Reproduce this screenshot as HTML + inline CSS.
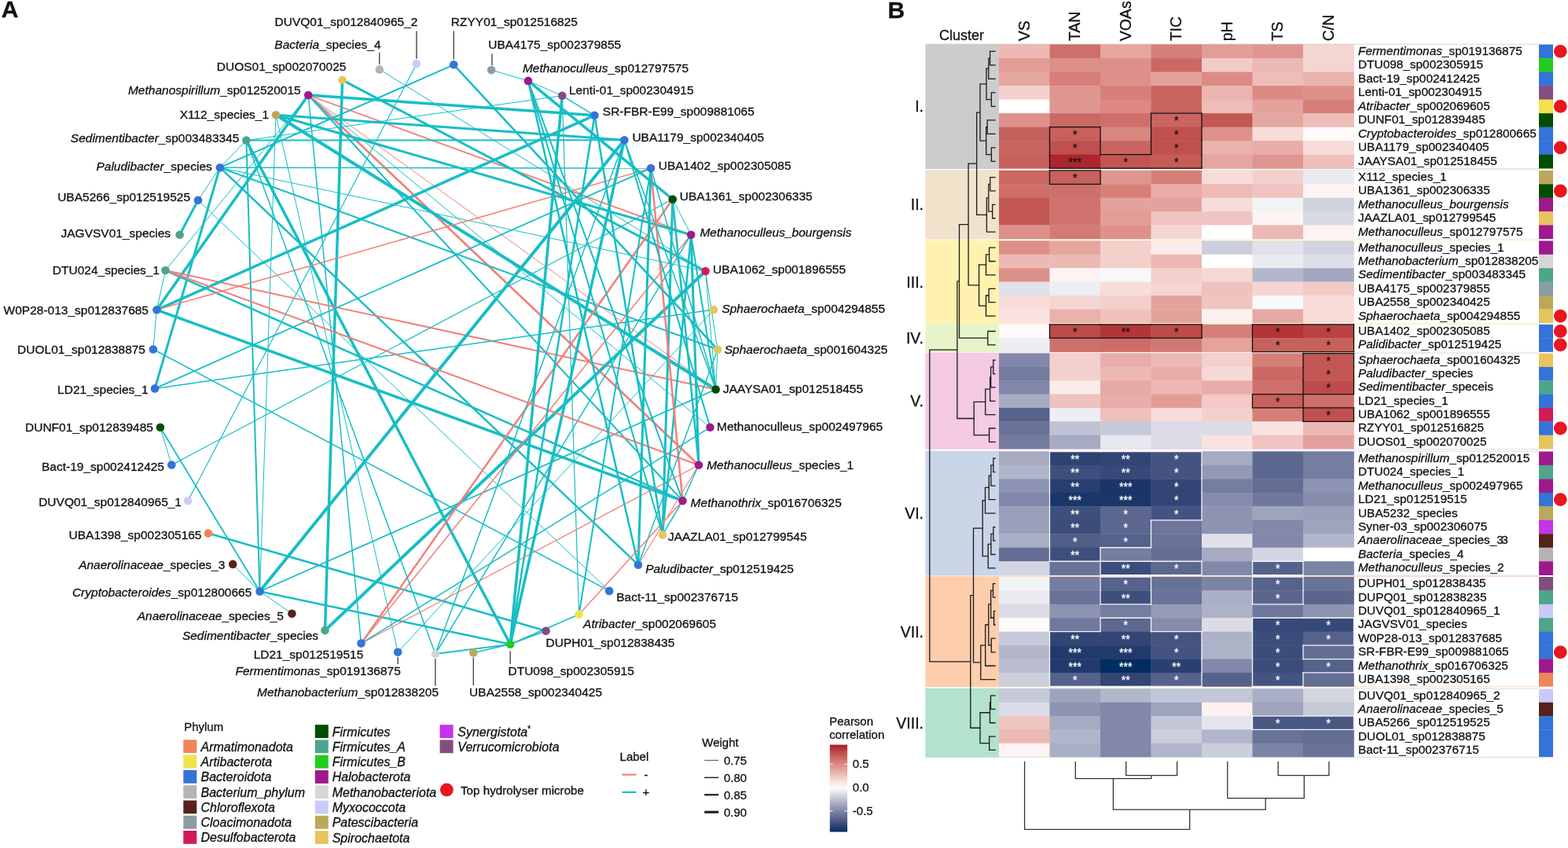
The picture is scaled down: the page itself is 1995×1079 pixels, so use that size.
<!DOCTYPE html>
<html><head><meta charset="utf-8"><title>Figure</title>
<style>
html,body{margin:0;padding:0;background:#fff;width:1995px;height:1079px;overflow:hidden}
svg{display:block;font-family:'Liberation Sans', Arial, sans-serif;fill:#111}
text{stroke:#111;stroke-width:0.3px}
text.w{fill:#fff;stroke:#fff}

</style></head><body>
<svg width="1995" height="1079" viewBox="0 0 1995 1079">
<text x="1.8" y="22.4" font-size="30" font-weight="bold">A</text>
<line x1="392.2" y1="121.0" x2="756.5" y2="146.8" stroke="#17BEC4" stroke-width="3.50"/>
<line x1="392.2" y1="121.0" x2="879.2" y2="298.8" stroke="#F2807A" stroke-width="1.80"/>
<line x1="392.2" y1="121.0" x2="889.0" y2="591.7" stroke="#F2807A" stroke-width="2.70"/>
<line x1="392.2" y1="121.0" x2="868.5" y2="637.2" stroke="#17BEC4" stroke-width="2.00"/>
<line x1="392.2" y1="121.0" x2="903.5" y2="543.8" stroke="#17BEC4" stroke-width="1.00"/>
<line x1="392.2" y1="121.0" x2="910.7" y2="495.5" stroke="#F2807A" stroke-width="1.00"/>
<line x1="392.2" y1="121.0" x2="459.5" y2="818.6" stroke="#17BEC4" stroke-width="1.50"/>
<line x1="392.2" y1="121.0" x2="199.4" y2="394.3" stroke="#17BEC4" stroke-width="3.50"/>
<line x1="435.6" y1="101.8" x2="413.5" y2="802.1" stroke="#17BEC4" stroke-width="3.50"/>
<line x1="435.6" y1="101.8" x2="897.6" y2="345.0" stroke="#17BEC4" stroke-width="3.00"/>
<line x1="482.8" y1="88.4" x2="897.6" y2="345.0" stroke="#17BEC4" stroke-width="1.00"/>
<line x1="530.0" y1="81.2" x2="239.1" y2="637.3" stroke="#17BEC4" stroke-width="1.20"/>
<line x1="577.3" y1="82.3" x2="279.8" y2="213.2" stroke="#17BEC4" stroke-width="2.00"/>
<line x1="351.0" y1="146.2" x2="794.4" y2="178.3" stroke="#17BEC4" stroke-width="3.00"/>
<line x1="351.0" y1="146.2" x2="879.2" y2="298.8" stroke="#17BEC4" stroke-width="3.00"/>
<line x1="351.0" y1="146.2" x2="910.7" y2="495.5" stroke="#17BEC4" stroke-width="4.00"/>
<line x1="351.0" y1="146.2" x2="330.5" y2="752.5" stroke="#17BEC4" stroke-width="1.00"/>
<line x1="351.0" y1="146.2" x2="506.2" y2="829.8" stroke="#17BEC4" stroke-width="1.00"/>
<line x1="313.4" y1="178.6" x2="794.4" y2="178.3" stroke="#17BEC4" stroke-width="2.00"/>
<line x1="313.4" y1="178.6" x2="715.3" y2="121.8" stroke="#17BEC4" stroke-width="1.00"/>
<line x1="313.4" y1="178.6" x2="649.2" y2="819.8" stroke="#17BEC4" stroke-width="3.50"/>
<line x1="313.4" y1="178.6" x2="330.5" y2="752.5" stroke="#17BEC4" stroke-width="2.00"/>
<line x1="313.4" y1="178.6" x2="279.8" y2="213.2" stroke="#17BEC4" stroke-width="1.00"/>
<line x1="279.8" y1="213.2" x2="828.1" y2="214.1" stroke="#17BEC4" stroke-width="1.50"/>
<line x1="279.8" y1="213.2" x2="897.6" y2="345.0" stroke="#17BEC4" stroke-width="1.00"/>
<line x1="279.8" y1="213.2" x2="913.0" y2="444.7" stroke="#17BEC4" stroke-width="2.00"/>
<line x1="279.8" y1="213.2" x2="812.0" y2="718.7" stroke="#17BEC4" stroke-width="2.50"/>
<line x1="279.8" y1="213.2" x2="197.0" y2="494.4" stroke="#17BEC4" stroke-width="3.00"/>
<line x1="279.8" y1="213.2" x2="252.0" y2="254.7" stroke="#17BEC4" stroke-width="1.00"/>
<line x1="252.0" y1="254.7" x2="775.2" y2="751.9" stroke="#17BEC4" stroke-width="1.00"/>
<line x1="252.0" y1="254.7" x2="228.6" y2="298.8" stroke="#17BEC4" stroke-width="3.00"/>
<line x1="210.5" y1="344.0" x2="392.2" y2="121.0" stroke="#17BEC4" stroke-width="1.00"/>
<line x1="210.5" y1="344.0" x2="910.7" y2="495.5" stroke="#F2807A" stroke-width="2.00"/>
<line x1="210.5" y1="344.0" x2="868.5" y2="637.2" stroke="#17BEC4" stroke-width="2.50"/>
<line x1="210.5" y1="344.0" x2="199.4" y2="394.3" stroke="#17BEC4" stroke-width="1.00"/>
<line x1="199.4" y1="394.3" x2="756.5" y2="146.8" stroke="#17BEC4" stroke-width="3.50"/>
<line x1="199.4" y1="394.3" x2="828.1" y2="214.1" stroke="#F2807A" stroke-width="1.50"/>
<line x1="199.4" y1="394.3" x2="868.5" y2="637.2" stroke="#17BEC4" stroke-width="3.50"/>
<line x1="194.9" y1="444.5" x2="775.2" y2="751.9" stroke="#17BEC4" stroke-width="1.50"/>
<line x1="194.9" y1="444.5" x2="199.4" y2="394.3" stroke="#17BEC4" stroke-width="1.00"/>
<line x1="197.0" y1="494.4" x2="828.1" y2="214.1" stroke="#17BEC4" stroke-width="1.80"/>
<line x1="197.0" y1="494.4" x2="908.0" y2="394.1" stroke="#17BEC4" stroke-width="1.50"/>
<line x1="203.9" y1="543.8" x2="330.5" y2="752.5" stroke="#17BEC4" stroke-width="1.80"/>
<line x1="203.9" y1="543.8" x2="218.3" y2="591.6" stroke="#17BEC4" stroke-width="1.00"/>
<line x1="218.3" y1="591.6" x2="855.8" y2="253.5" stroke="#17BEC4" stroke-width="1.20"/>
<line x1="265.0" y1="678.5" x2="694.6" y2="802.7" stroke="#17BEC4" stroke-width="2.50"/>
<line x1="330.5" y1="752.5" x2="794.4" y2="178.3" stroke="#17BEC4" stroke-width="4.00"/>
<line x1="330.5" y1="752.5" x2="910.7" y2="495.5" stroke="#17BEC4" stroke-width="1.80"/>
<line x1="330.5" y1="752.5" x2="296.2" y2="717.9" stroke="#17BEC4" stroke-width="1.00"/>
<line x1="330.5" y1="752.5" x2="371.4" y2="780.8" stroke="#17BEC4" stroke-width="1.00"/>
<line x1="330.5" y1="752.5" x2="649.2" y2="819.8" stroke="#17BEC4" stroke-width="2.50"/>
<line x1="413.5" y1="802.1" x2="897.6" y2="345.0" stroke="#17BEC4" stroke-width="4.00"/>
<line x1="459.5" y1="818.6" x2="855.8" y2="253.5" stroke="#F2807A" stroke-width="2.50"/>
<line x1="459.5" y1="818.6" x2="879.2" y2="298.8" stroke="#F2807A" stroke-width="1.50"/>
<line x1="459.5" y1="818.6" x2="889.0" y2="591.7" stroke="#F2807A" stroke-width="1.20"/>
<line x1="459.5" y1="818.6" x2="903.5" y2="543.8" stroke="#17BEC4" stroke-width="1.50"/>
<line x1="506.2" y1="829.8" x2="908.0" y2="394.1" stroke="#17BEC4" stroke-width="1.00"/>
<line x1="553.9" y1="832.0" x2="313.4" y2="178.6" stroke="#17BEC4" stroke-width="1.50"/>
<line x1="553.9" y1="832.0" x2="794.4" y2="178.3" stroke="#17BEC4" stroke-width="1.50"/>
<line x1="553.9" y1="832.0" x2="879.2" y2="298.8" stroke="#17BEC4" stroke-width="1.50"/>
<line x1="553.9" y1="832.0" x2="649.2" y2="819.8" stroke="#17BEC4" stroke-width="1.80"/>
<line x1="602.3" y1="830.4" x2="649.2" y2="819.8" stroke="#17BEC4" stroke-width="1.50"/>
<line x1="649.2" y1="819.8" x2="715.3" y2="121.8" stroke="#17BEC4" stroke-width="3.50"/>
<line x1="649.2" y1="819.8" x2="794.4" y2="178.3" stroke="#17BEC4" stroke-width="3.50"/>
<line x1="649.2" y1="819.8" x2="694.6" y2="802.7" stroke="#17BEC4" stroke-width="1.50"/>
<line x1="649.2" y1="819.8" x2="736.7" y2="781.7" stroke="#17BEC4" stroke-width="1.50"/>
<line x1="736.7" y1="781.7" x2="715.3" y2="121.8" stroke="#17BEC4" stroke-width="1.20"/>
<line x1="736.7" y1="781.7" x2="828.1" y2="214.1" stroke="#17BEC4" stroke-width="2.00"/>
<line x1="210.5" y1="344.0" x2="889.0" y2="591.7" stroke="#F2807A" stroke-width="2.00"/>
<line x1="855.8" y1="253.5" x2="843.0" y2="680.5" stroke="#17BEC4" stroke-width="3.00"/>
<line x1="879.2" y1="298.8" x2="889.0" y2="591.7" stroke="#17BEC4" stroke-width="3.00"/>
<line x1="879.2" y1="298.8" x2="910.7" y2="495.5" stroke="#17BEC4" stroke-width="2.00"/>
<line x1="879.2" y1="298.8" x2="843.0" y2="680.5" stroke="#17BEC4" stroke-width="2.50"/>
<line x1="828.1" y1="214.1" x2="868.5" y2="637.2" stroke="#F2807A" stroke-width="2.50"/>
<line x1="828.1" y1="214.1" x2="812.0" y2="718.7" stroke="#17BEC4" stroke-width="3.00"/>
<line x1="812.0" y1="718.7" x2="913.0" y2="444.7" stroke="#17BEC4" stroke-width="1.50"/>
<line x1="812.0" y1="718.7" x2="889.0" y2="591.7" stroke="#F2807A" stroke-width="1.20"/>
<line x1="736.7" y1="781.7" x2="868.5" y2="637.2" stroke="#F2807A" stroke-width="1.50"/>
<line x1="672.0" y1="102.9" x2="843.0" y2="680.5" stroke="#17BEC4" stroke-width="2.00"/>
<line x1="672.0" y1="102.9" x2="812.0" y2="718.7" stroke="#17BEC4" stroke-width="2.50"/>
<line x1="672.0" y1="102.9" x2="855.8" y2="253.5" stroke="#17BEC4" stroke-width="3.50"/>
<line x1="672.0" y1="102.9" x2="715.3" y2="121.8" stroke="#17BEC4" stroke-width="1.00"/>
<line x1="672.0" y1="102.9" x2="868.5" y2="637.2" stroke="#17BEC4" stroke-width="2.00"/>
<line x1="625.2" y1="89.1" x2="672.0" y2="102.9" stroke="#17BEC4" stroke-width="1.00"/>
<line x1="843.0" y1="680.5" x2="868.5" y2="637.2" stroke="#17BEC4" stroke-width="1.50"/>
<line x1="889.0" y1="591.7" x2="868.5" y2="637.2" stroke="#17BEC4" stroke-width="1.50"/>
<line x1="715.3" y1="121.8" x2="756.5" y2="146.8" stroke="#17BEC4" stroke-width="1.50"/>
<line x1="756.5" y1="146.8" x2="843.0" y2="680.5" stroke="#17BEC4" stroke-width="2.50"/>
<line x1="794.4" y1="178.3" x2="903.5" y2="543.8" stroke="#17BEC4" stroke-width="2.00"/>
<line x1="577.3" y1="82.3" x2="913.0" y2="444.7" stroke="#17BEC4" stroke-width="2.50"/>
<line x1="897.6" y1="345.0" x2="913.0" y2="444.7" stroke="#17BEC4" stroke-width="1.00"/>
<line x1="855.8" y1="253.5" x2="889.0" y2="591.7" stroke="#17BEC4" stroke-width="2.50"/>
<line x1="855.8" y1="253.5" x2="879.2" y2="298.8" stroke="#17BEC4" stroke-width="1.00"/>
<line x1="897.6" y1="345.0" x2="910.7" y2="495.5" stroke="#17BEC4" stroke-width="1.00"/>
<line x1="794.4" y1="178.3" x2="910.7" y2="495.5" stroke="#17BEC4" stroke-width="1.50"/>
<line x1="910.7" y1="495.5" x2="913.0" y2="444.7" stroke="#17BEC4" stroke-width="1.00"/>
<line x1="828.1" y1="214.1" x2="910.7" y2="495.5" stroke="#17BEC4" stroke-width="1.50"/>
<line x1="649.2" y1="819.8" x2="756.5" y2="146.8" stroke="#17BEC4" stroke-width="2.50"/>
<line x1="530.0" y1="39.5" x2="530.0" y2="75.0" stroke="#3a3a3a" stroke-width="1.3"/>
<circle cx="530.0" cy="81.2" r="5.3" fill="#CACAFA"/>
<text x="531.4" y="32.6" font-size="15.5" text-anchor="end">DUVQ01_sp012840965_2</text>
<line x1="482.8" y1="66.7" x2="482.8" y2="82.0" stroke="#3a3a3a" stroke-width="1.3"/>
<circle cx="482.8" cy="88.4" r="5.3" fill="#B8B3B3"/>
<text x="484.6" y="61.5" font-size="15.5" text-anchor="end"><tspan font-style="italic">Bacteria</tspan>_species_4</text>
<line x1="577.3" y1="39.5" x2="577.3" y2="75.5" stroke="#3a3a3a" stroke-width="1.3"/>
<circle cx="577.3" cy="82.3" r="5.3" fill="#3473D9"/>
<text x="573.8" y="32.6" font-size="15.5" text-anchor="start">RZYY01_sp012516825</text>
<line x1="626.0" y1="68.4" x2="626.0" y2="83.0" stroke="#3a3a3a" stroke-width="1.3"/>
<circle cx="625.2" cy="89.1" r="5.3" fill="#8A9CA6"/>
<text x="621.3" y="62.4" font-size="15.5" text-anchor="start">UBA4175_sp002379855</text>
<circle cx="435.6" cy="101.8" r="5.3" fill="#E8C45E"/>
<text x="440.4" y="90.1" font-size="15.5" text-anchor="end">DUOS01_sp002070025</text>
<circle cx="672.0" cy="102.9" r="5.3" fill="#9E1A8C"/>
<text x="664.9" y="91.7" font-size="15.5" text-anchor="start"><tspan font-style="italic">Methanoculleus</tspan>_sp012797575</text>
<circle cx="392.2" cy="121.0" r="5.3" fill="#9E1A8C"/>
<text x="382.7" y="120.4" font-size="15.5" text-anchor="end"><tspan font-style="italic">Methanospirillum</tspan>_sp012520015</text>
<circle cx="715.3" cy="121.8" r="5.3" fill="#834D80"/>
<text x="724.0" y="120.4" font-size="15.5" text-anchor="start">Lenti-01_sp002304915</text>
<circle cx="351.0" cy="146.2" r="5.3" fill="#BBA85A"/>
<text x="342.1" y="151.3" font-size="15.5" text-anchor="end">X112_species_1</text>
<circle cx="756.5" cy="146.8" r="5.3" fill="#3473D9"/>
<text x="766.8" y="147.4" font-size="15.5" text-anchor="start">SR-FBR-E99_sp009881065</text>
<circle cx="313.4" cy="178.6" r="5.3" fill="#4DA58A"/>
<text x="304.4" y="180.6" font-size="15.5" text-anchor="end"><tspan font-style="italic">Sedimentibacter</tspan>_sp003483345</text>
<circle cx="794.4" cy="178.3" r="5.3" fill="#3473D9"/>
<text x="804.4" y="179.6" font-size="15.5" text-anchor="start">UBA1179_sp002340405</text>
<circle cx="279.8" cy="213.2" r="5.3" fill="#3473D9"/>
<text x="269.8" y="216.5" font-size="15.5" text-anchor="end"><tspan font-style="italic">Paludibacter</tspan>_species</text>
<circle cx="828.1" cy="214.1" r="5.3" fill="#3473D9"/>
<text x="837.7" y="216.0" font-size="15.5" text-anchor="start">UBA1402_sp002305085</text>
<circle cx="252.0" cy="254.7" r="5.3" fill="#3473D9"/>
<text x="242.1" y="255.7" font-size="15.5" text-anchor="end">UBA5266_sp012519525</text>
<circle cx="855.8" cy="253.5" r="5.3" fill="#024D02"/>
<text x="864.8" y="254.5" font-size="15.5" text-anchor="start">UBA1361_sp002306335</text>
<circle cx="228.6" cy="298.8" r="5.3" fill="#4DA58A"/>
<text x="217.1" y="302.3" font-size="15.5" text-anchor="end">JAGVSV01_species</text>
<circle cx="879.2" cy="298.8" r="5.3" fill="#9E1A8C"/>
<text x="890.4" y="301.2" font-size="15.5" text-anchor="start"><tspan font-style="italic">Methanoculleus_bourgensis</tspan></text>
<circle cx="210.5" cy="344.0" r="5.3" fill="#4DA58A"/>
<text x="203.0" y="349.2" font-size="15.5" text-anchor="end">DTU024_species_1</text>
<circle cx="897.6" cy="345.0" r="5.3" fill="#D01C5A"/>
<text x="907.1" y="348.1" font-size="15.5" text-anchor="start">UBA1062_sp001896555</text>
<circle cx="199.4" cy="394.3" r="5.3" fill="#3473D9"/>
<text x="189.0" y="399.7" font-size="15.5" text-anchor="end">W0P28-013_sp012837685</text>
<circle cx="908.0" cy="394.1" r="5.3" fill="#E8C45E"/>
<text x="918.4" y="398.4" font-size="15.5" text-anchor="start"><tspan font-style="italic">Sphaerochaeta</tspan>_sp004294855</text>
<circle cx="194.9" cy="444.5" r="5.3" fill="#3473D9"/>
<text x="185.0" y="449.9" font-size="15.5" text-anchor="end">DUOL01_sp012838875</text>
<circle cx="913.0" cy="444.7" r="5.3" fill="#E8C45E"/>
<text x="921.7" y="449.6" font-size="15.5" text-anchor="start"><tspan font-style="italic">Sphaerochaeta</tspan>_sp001604325</text>
<circle cx="197.0" cy="494.4" r="5.3" fill="#3473D9"/>
<text x="188.6" y="500.5" font-size="15.5" text-anchor="end">LD21_species_1</text>
<circle cx="910.7" cy="495.5" r="5.3" fill="#024D02"/>
<text x="919.9" y="500.0" font-size="15.5" text-anchor="start">JAAYSA01_sp012518455</text>
<circle cx="203.9" cy="543.8" r="5.3" fill="#024D02"/>
<text x="194.9" y="549.2" font-size="15.5" text-anchor="end">DUNF01_sp012839485</text>
<circle cx="903.5" cy="543.8" r="5.3" fill="#9E1A8C"/>
<text x="912.0" y="548.1" font-size="15.5" text-anchor="start">Methanoculleus_sp002497965</text>
<circle cx="218.3" cy="591.6" r="5.3" fill="#3473D9"/>
<text x="209.0" y="599.1" font-size="15.5" text-anchor="end">Bact-19_sp002412425</text>
<circle cx="889.0" cy="591.7" r="5.3" fill="#9E1A8C"/>
<text x="899.2" y="597.3" font-size="15.5" text-anchor="start"><tspan font-style="italic">Methanoculleus</tspan>_species_1</text>
<circle cx="239.1" cy="637.3" r="5.3" fill="#CACAFA"/>
<text x="231.0" y="643.6" font-size="15.5" text-anchor="end">DUVQ01_sp012840965_1</text>
<circle cx="868.5" cy="637.2" r="5.3" fill="#9E1A8C"/>
<text x="878.6" y="644.9" font-size="15.5" text-anchor="start"><tspan font-style="italic">Methanothrix</tspan>_sp016706325</text>
<circle cx="265.0" cy="678.5" r="5.3" fill="#F0845A"/>
<text x="256.5" y="685.7" font-size="15.5" text-anchor="end">UBA1398_sp002305165</text>
<circle cx="843.0" cy="680.5" r="5.3" fill="#E8C45E"/>
<text x="849.9" y="688.2" font-size="15.5" text-anchor="start">JAAZLA01_sp012799545</text>
<circle cx="296.2" cy="717.9" r="5.3" fill="#55231A"/>
<text x="286.3" y="723.9" font-size="15.5" text-anchor="end"><tspan font-style="italic">Anaerolinaceae</tspan>_species_3</text>
<circle cx="812.0" cy="718.7" r="5.3" fill="#3473D9"/>
<text x="821.2" y="728.7" font-size="15.5" text-anchor="start"><tspan font-style="italic">Paludibacter</tspan>_sp012519425</text>
<circle cx="330.5" cy="752.5" r="5.3" fill="#3473D9"/>
<text x="320.3" y="758.5" font-size="15.5" text-anchor="end"><tspan font-style="italic">Cryptobacteroides</tspan>_sp012800665</text>
<circle cx="775.2" cy="751.9" r="5.3" fill="#3473D9"/>
<text x="784.2" y="765.4" font-size="15.5" text-anchor="start">Bact-11_sp002376715</text>
<circle cx="371.4" cy="780.8" r="5.3" fill="#55231A"/>
<text x="360.9" y="788.6" font-size="15.5" text-anchor="end"><tspan font-style="italic">Anaerolinaceae</tspan>_species_5</text>
<circle cx="736.7" cy="781.7" r="5.3" fill="#F3E24A"/>
<text x="742.1" y="799.1" font-size="15.5" text-anchor="start"><tspan font-style="italic">Atribacter</tspan>_sp002069605</text>
<circle cx="413.5" cy="802.1" r="5.3" fill="#4DA58A"/>
<text x="405.1" y="814.1" font-size="15.5" text-anchor="end"><tspan font-style="italic">Sedimentibacter</tspan>_species</text>
<circle cx="694.6" cy="802.7" r="5.3" fill="#834D80"/>
<text x="694.6" y="823.2" font-size="15.5" text-anchor="start">DUPH01_sp012838435</text>
<circle cx="459.5" cy="818.6" r="5.3" fill="#3473D9"/>
<text x="462.3" y="837.6" font-size="15.5" text-anchor="end">LD21_sp012519515</text>
<line x1="649.2" y1="828.6" x2="649.2" y2="845.1" stroke="#3a3a3a" stroke-width="1.3"/>
<circle cx="649.2" cy="819.8" r="5.3" fill="#22CC22"/>
<text x="646.5" y="859.2" font-size="15.5" text-anchor="start">DTU098_sp002305915</text>
<line x1="506.2" y1="836.0" x2="506.2" y2="845.0" stroke="#3a3a3a" stroke-width="1.3"/>
<circle cx="506.2" cy="829.8" r="5.3" fill="#3473D9"/>
<text x="509.8" y="858.6" font-size="15.5" text-anchor="end"><tspan font-style="italic">Fermentimonas</tspan>_sp019136875</text>
<line x1="602.3" y1="836.5" x2="602.3" y2="872.2" stroke="#3a3a3a" stroke-width="1.3"/>
<circle cx="602.3" cy="830.4" r="5.3" fill="#BBA85A"/>
<text x="597.1" y="886.3" font-size="15.5" text-anchor="start">UBA2558_sp002340425</text>
<line x1="553.9" y1="838.0" x2="553.9" y2="872.5" stroke="#3a3a3a" stroke-width="1.3"/>
<circle cx="553.9" cy="832.0" r="5.3" fill="#D6D6D6"/>
<text x="558.0" y="886.3" font-size="15.5" text-anchor="end"><tspan font-style="italic">Methanobacterium</tspan>_sp012838205</text>
<text x="234.2" y="929.5" font-size="15">Phylum</text>
<rect x="233.3" y="941.3" width="17" height="16.8" fill="#F0845A"/>
<text x="255.5" y="955.6" font-size="16" font-style="italic">Armatimonadota</text>
<rect x="233.3" y="960.6" width="17" height="16.8" fill="#F3E24A"/>
<text x="255.5" y="974.9" font-size="16" font-style="italic">Artibacterota</text>
<rect x="233.3" y="979.9" width="17" height="16.8" fill="#3473D9"/>
<text x="255.5" y="994.2" font-size="16" font-style="italic">Bacteroidota</text>
<rect x="233.3" y="999.2" width="17" height="16.8" fill="#B8B3B3"/>
<text x="255.5" y="1013.5" font-size="16" font-style="italic">Bacterium_phylum</text>
<rect x="233.3" y="1018.5" width="17" height="16.8" fill="#55231A"/>
<text x="255.5" y="1032.8" font-size="16" font-style="italic">Chloroflexota</text>
<rect x="233.3" y="1037.8" width="17" height="16.8" fill="#8A9CA6"/>
<text x="255.5" y="1052.0" font-size="16" font-style="italic">Cloacimonadota</text>
<rect x="233.3" y="1057.0" width="17" height="16.8" fill="#D01C5A"/>
<text x="255.5" y="1071.3" font-size="16" font-style="italic">Desulfobacterota</text>
<rect x="400.8" y="922.2" width="17" height="16.8" fill="#024D02"/>
<text x="422.7" y="936.5" font-size="16" font-style="italic">Firmicutes</text>
<rect x="400.8" y="941.5" width="17" height="16.8" fill="#4DA58A"/>
<text x="422.7" y="955.8" font-size="16" font-style="italic">Firmicutes_A</text>
<rect x="400.8" y="960.8" width="17" height="16.8" fill="#22CC22"/>
<text x="422.7" y="975.1" font-size="16" font-style="italic">Firmicutes_B</text>
<rect x="400.8" y="980.1" width="17" height="16.8" fill="#9E1A8C"/>
<text x="422.7" y="994.4" font-size="16" font-style="italic">Halobacterota</text>
<rect x="400.8" y="999.4" width="17" height="16.8" fill="#D6D6D6"/>
<text x="422.7" y="1013.7" font-size="16" font-style="italic">Methanobacteriota</text>
<rect x="400.8" y="1018.7" width="17" height="16.8" fill="#CACAFA"/>
<text x="422.7" y="1033.0" font-size="16" font-style="italic">Myxococcota</text>
<rect x="400.8" y="1037.9" width="17" height="16.8" fill="#BBA85A"/>
<text x="422.7" y="1052.2" font-size="16" font-style="italic">Patescibacteria</text>
<rect x="400.8" y="1057.2" width="17" height="16.8" fill="#E8C45E"/>
<text x="422.7" y="1071.5" font-size="16" font-style="italic">Spirochaetota</text>
<rect x="559.6" y="922.2" width="17" height="16.8" fill="#C633E8"/>
<text x="582.3" y="936.5" font-size="16"><tspan font-style="italic">Synergistota</tspan><tspan font-size="10" dy="-6">*</tspan></text>
<rect x="559.6" y="941.5" width="17" height="16.8" fill="#834D80"/>
<text x="582.3" y="955.8" font-size="16" font-style="italic">Verrucomicrobiota</text>
<circle cx="568.4" cy="1005" r="8.4" fill="#E8161F"/>
<text x="586" y="1010.6" font-size="15.2">Top hydrolyser microbe</text>
<text x="788.6" y="967.6" font-size="15">Label</text>
<line x1="791.4" y1="985.7" x2="809.5" y2="985.7" stroke="#F8766D" stroke-width="2"/>
<text x="819.4" y="991" font-size="15">-</text>
<line x1="791.4" y1="1008" x2="809.5" y2="1008" stroke="#00BFC4" stroke-width="2"/>
<text x="817.6" y="1013.2" font-size="15">+</text>
<text x="893.3" y="950" font-size="15">Weight</text>
<line x1="896.2" y1="967.4" x2="914.3" y2="967.4" stroke="#222" stroke-width="0.8"/>
<text x="921" y="973.3" font-size="15">0.75</text>
<line x1="896.2" y1="989.4" x2="914.3" y2="989.4" stroke="#222" stroke-width="1.5"/>
<text x="921" y="995.3" font-size="15">0.80</text>
<line x1="896.2" y1="1011.3" x2="914.3" y2="1011.3" stroke="#222" stroke-width="2.3"/>
<text x="921" y="1017.2" font-size="15">0.85</text>
<line x1="896.2" y1="1033.3" x2="914.3" y2="1033.3" stroke="#222" stroke-width="3.1"/>
<text x="921" y="1039.2" font-size="15">0.90</text>
<text x="1129.6" y="23.4" font-size="30" font-weight="bold">B</text>
<text x="1195" y="51.1" font-size="18">Cluster</text>
<text transform="translate(1309.5,52.3) rotate(-90)" font-size="19.5">VS</text>
<text transform="translate(1374.0,52.3) rotate(-90)" font-size="19.5">TAN</text>
<text transform="translate(1438.5,52.3) rotate(-90)" font-size="19.5">VOAs</text>
<text transform="translate(1503.0,52.3) rotate(-90)" font-size="19.5">TIC</text>
<text transform="translate(1567.5,52.3) rotate(-90)" font-size="19.5">pH</text>
<text transform="translate(1632.0,52.3) rotate(-90)" font-size="19.5">TS</text>
<text transform="translate(1696.5,52.3) rotate(-90)" font-size="19.5">C/N</text>
<rect x="1177.3" y="55.80" width="780.70" height="159.20" fill="#CCCCCC"/>
<rect x="1722.5" y="56.60" width="235.50" height="157.60" fill="#FFFFFF"/>
<text x="1175" y="142.4" font-size="19.5" text-anchor="end">I.</text>
<rect x="1177.3" y="216.10" width="780.70" height="88.50" fill="#F1E2CC"/>
<rect x="1722.5" y="216.90" width="235.50" height="86.90" fill="#FFFFFF"/>
<text x="1175" y="267.4" font-size="19.5" text-anchor="end">II.</text>
<rect x="1177.3" y="305.60" width="780.70" height="106.00" fill="#FFF2AE"/>
<rect x="1722.5" y="306.40" width="235.50" height="104.40" fill="#FFFFFF"/>
<text x="1175" y="365.6" font-size="19.5" text-anchor="end">III.</text>
<rect x="1177.3" y="412.00" width="780.70" height="36.40" fill="#E6F5C9"/>
<rect x="1722.5" y="412.80" width="235.50" height="34.80" fill="#FFFFFF"/>
<text x="1175" y="437.2" font-size="19.5" text-anchor="end">IV.</text>
<rect x="1177.3" y="448.80" width="780.70" height="123.00" fill="#F4CAE4"/>
<rect x="1722.5" y="449.60" width="235.50" height="121.40" fill="#FFFFFF"/>
<text x="1175" y="517.3" font-size="19.5" text-anchor="end">V.</text>
<rect x="1177.3" y="573.70" width="780.70" height="158.80" fill="#CBD5E8"/>
<rect x="1722.5" y="574.50" width="235.50" height="157.20" fill="#FFFFFF"/>
<text x="1175" y="660.1" font-size="19.5" text-anchor="end">VI.</text>
<rect x="1177.3" y="733.20" width="780.70" height="141.00" fill="#FDCDAC"/>
<rect x="1722.5" y="734.00" width="235.50" height="139.40" fill="#FFFFFF"/>
<text x="1175" y="810.7" font-size="19.5" text-anchor="end">VII.</text>
<rect x="1177.3" y="875.70" width="780.70" height="88.10" fill="#B3E2CD"/>
<rect x="1722.5" y="876.50" width="235.50" height="86.50" fill="#FFFFFF"/>
<text x="1175" y="926.8" font-size="19.5" text-anchor="end">VIII.</text>
<rect x="1271.00" y="56.60" width="64.80" height="17.81" fill="#ECB9B4"/>
<rect x="1335.50" y="56.60" width="64.80" height="17.81" fill="#CE6F69"/>
<rect x="1400.00" y="56.60" width="64.80" height="17.81" fill="#E6A6A0"/>
<rect x="1464.50" y="56.60" width="64.80" height="17.81" fill="#D67F79"/>
<rect x="1529.00" y="56.60" width="64.80" height="17.81" fill="#E29D97"/>
<rect x="1593.50" y="56.60" width="64.80" height="17.81" fill="#DF9690"/>
<rect x="1658.00" y="56.60" width="64.80" height="17.81" fill="#F5D5D1"/>
<rect x="1271.00" y="74.11" width="64.80" height="17.81" fill="#E29D97"/>
<rect x="1335.50" y="74.11" width="64.80" height="17.81" fill="#DD8F89"/>
<rect x="1400.00" y="74.11" width="64.80" height="17.81" fill="#DD8F89"/>
<rect x="1464.50" y="74.11" width="64.80" height="17.81" fill="#CB6863"/>
<rect x="1529.00" y="74.11" width="64.80" height="17.81" fill="#F2CBC7"/>
<rect x="1593.50" y="74.11" width="64.80" height="17.81" fill="#ECB9B4"/>
<rect x="1658.00" y="74.11" width="64.80" height="17.81" fill="#F5D5D1"/>
<rect x="1271.00" y="91.62" width="64.80" height="17.81" fill="#E6A6A0"/>
<rect x="1335.50" y="91.62" width="64.80" height="17.81" fill="#D67F79"/>
<rect x="1400.00" y="91.62" width="64.80" height="17.81" fill="#DD8F89"/>
<rect x="1464.50" y="91.62" width="64.80" height="17.81" fill="#E4A29C"/>
<rect x="1529.00" y="91.62" width="64.80" height="17.81" fill="#DB8B84"/>
<rect x="1593.50" y="91.62" width="64.80" height="17.81" fill="#EEBDB9"/>
<rect x="1658.00" y="91.62" width="64.80" height="17.81" fill="#EAB2AC"/>
<rect x="1271.00" y="109.13" width="64.80" height="17.81" fill="#F4D0CC"/>
<rect x="1335.50" y="109.13" width="64.80" height="17.81" fill="#DF9690"/>
<rect x="1400.00" y="109.13" width="64.80" height="17.81" fill="#D67F79"/>
<rect x="1464.50" y="109.13" width="64.80" height="17.81" fill="#CA6560"/>
<rect x="1529.00" y="109.13" width="64.80" height="17.81" fill="#EBB4AF"/>
<rect x="1593.50" y="109.13" width="64.80" height="17.81" fill="#DB8B84"/>
<rect x="1658.00" y="109.13" width="64.80" height="17.81" fill="#DE918B"/>
<rect x="1271.00" y="126.64" width="64.80" height="17.81" fill="#FFFFFF"/>
<rect x="1335.50" y="126.64" width="64.80" height="17.81" fill="#DF9690"/>
<rect x="1400.00" y="126.64" width="64.80" height="17.81" fill="#DB8B84"/>
<rect x="1464.50" y="126.64" width="64.80" height="17.81" fill="#CA6560"/>
<rect x="1529.00" y="126.64" width="64.80" height="17.81" fill="#EEBDB9"/>
<rect x="1593.50" y="126.64" width="64.80" height="17.81" fill="#E4A29C"/>
<rect x="1658.00" y="126.64" width="64.80" height="17.81" fill="#D67F79"/>
<rect x="1271.00" y="144.16" width="64.80" height="17.81" fill="#DE918B"/>
<rect x="1335.50" y="144.16" width="64.80" height="17.81" fill="#CB6863"/>
<rect x="1400.00" y="144.16" width="64.80" height="17.81" fill="#CE6F69"/>
<rect x="1464.50" y="144.16" width="64.80" height="17.81" fill="#CA6560"/>
<rect x="1529.00" y="144.16" width="64.80" height="17.81" fill="#C35754"/>
<rect x="1593.50" y="144.16" width="64.80" height="17.81" fill="#E6A6A0"/>
<rect x="1658.00" y="144.16" width="64.80" height="17.81" fill="#EEBDB9"/>
<rect x="1271.00" y="161.67" width="64.80" height="17.81" fill="#C7615C"/>
<rect x="1335.50" y="161.67" width="64.80" height="17.81" fill="#C7615C"/>
<rect x="1400.00" y="161.67" width="64.80" height="17.81" fill="#D98680"/>
<rect x="1464.50" y="161.67" width="64.80" height="17.81" fill="#BF504D"/>
<rect x="1529.00" y="161.67" width="64.80" height="17.81" fill="#DE918B"/>
<rect x="1593.50" y="161.67" width="64.80" height="17.81" fill="#F7DCD9"/>
<rect x="1658.00" y="161.67" width="64.80" height="17.81" fill="#FEFAFA"/>
<rect x="1271.00" y="179.18" width="64.80" height="17.81" fill="#CA6560"/>
<rect x="1335.50" y="179.18" width="64.80" height="17.81" fill="#BF504D"/>
<rect x="1400.00" y="179.18" width="64.80" height="17.81" fill="#CA6560"/>
<rect x="1464.50" y="179.18" width="64.80" height="17.81" fill="#BF504D"/>
<rect x="1529.00" y="179.18" width="64.80" height="17.81" fill="#EAB2AC"/>
<rect x="1593.50" y="179.18" width="64.80" height="17.81" fill="#E8ADA8"/>
<rect x="1658.00" y="179.18" width="64.80" height="17.81" fill="#F7DCD9"/>
<rect x="1271.00" y="196.69" width="64.80" height="17.81" fill="#C7615C"/>
<rect x="1335.50" y="196.69" width="64.80" height="17.81" fill="#AC252F"/>
<rect x="1400.00" y="196.69" width="64.80" height="17.81" fill="#C25551"/>
<rect x="1464.50" y="196.69" width="64.80" height="17.81" fill="#C55C58"/>
<rect x="1529.00" y="196.69" width="64.80" height="17.81" fill="#E6A6A0"/>
<rect x="1593.50" y="196.69" width="64.80" height="17.81" fill="#DF9690"/>
<rect x="1658.00" y="196.69" width="64.80" height="17.81" fill="#EFC0BB"/>
<rect x="1271.00" y="216.90" width="64.80" height="17.68" fill="#CB6863"/>
<rect x="1335.50" y="216.90" width="64.80" height="17.68" fill="#C7615C"/>
<rect x="1400.00" y="216.90" width="64.80" height="17.68" fill="#DF9690"/>
<rect x="1464.50" y="216.90" width="64.80" height="17.68" fill="#D67F79"/>
<rect x="1529.00" y="216.90" width="64.80" height="17.68" fill="#F7DCD9"/>
<rect x="1593.50" y="216.90" width="64.80" height="17.68" fill="#F4D0CC"/>
<rect x="1658.00" y="216.90" width="64.80" height="17.68" fill="#EAEBF1"/>
<rect x="1271.00" y="234.28" width="64.80" height="17.68" fill="#CE6F69"/>
<rect x="1335.50" y="234.28" width="64.80" height="17.68" fill="#CE6F69"/>
<rect x="1400.00" y="234.28" width="64.80" height="17.68" fill="#D67F79"/>
<rect x="1464.50" y="234.28" width="64.80" height="17.68" fill="#E8ADA8"/>
<rect x="1529.00" y="234.28" width="64.80" height="17.68" fill="#ECB9B4"/>
<rect x="1593.50" y="234.28" width="64.80" height="17.68" fill="#F0C4C0"/>
<rect x="1658.00" y="234.28" width="64.80" height="17.68" fill="#FDF3F2"/>
<rect x="1271.00" y="251.66" width="64.80" height="17.68" fill="#C35754"/>
<rect x="1335.50" y="251.66" width="64.80" height="17.68" fill="#D0736E"/>
<rect x="1400.00" y="251.66" width="64.80" height="17.68" fill="#E4A29C"/>
<rect x="1464.50" y="251.66" width="64.80" height="17.68" fill="#E4A29C"/>
<rect x="1529.00" y="251.66" width="64.80" height="17.68" fill="#F7DCD9"/>
<rect x="1593.50" y="251.66" width="64.80" height="17.68" fill="#F2F3F6"/>
<rect x="1658.00" y="251.66" width="64.80" height="17.68" fill="#D1D3DF"/>
<rect x="1271.00" y="269.04" width="64.80" height="17.68" fill="#C35754"/>
<rect x="1335.50" y="269.04" width="64.80" height="17.68" fill="#D0736E"/>
<rect x="1400.00" y="269.04" width="64.80" height="17.68" fill="#E29D97"/>
<rect x="1464.50" y="269.04" width="64.80" height="17.68" fill="#F0C4C0"/>
<rect x="1529.00" y="269.04" width="64.80" height="17.68" fill="#F0C4C0"/>
<rect x="1593.50" y="269.04" width="64.80" height="17.68" fill="#FDF3F2"/>
<rect x="1658.00" y="269.04" width="64.80" height="17.68" fill="#D8DAE5"/>
<rect x="1271.00" y="286.42" width="64.80" height="17.68" fill="#DD8F89"/>
<rect x="1335.50" y="286.42" width="64.80" height="17.68" fill="#D47A74"/>
<rect x="1400.00" y="286.42" width="64.80" height="17.68" fill="#DE918B"/>
<rect x="1464.50" y="286.42" width="64.80" height="17.68" fill="#F5D5D1"/>
<rect x="1529.00" y="286.42" width="64.80" height="17.68" fill="#FFFFFF"/>
<rect x="1593.50" y="286.42" width="64.80" height="17.68" fill="#ECB9B4"/>
<rect x="1658.00" y="286.42" width="64.80" height="17.68" fill="#FDF3F2"/>
<rect x="1271.00" y="306.40" width="64.80" height="17.70" fill="#DD8F89"/>
<rect x="1335.50" y="306.40" width="64.80" height="17.70" fill="#E6A6A0"/>
<rect x="1400.00" y="306.40" width="64.80" height="17.70" fill="#F4D0CC"/>
<rect x="1464.50" y="306.40" width="64.80" height="17.70" fill="#FBECEA"/>
<rect x="1529.00" y="306.40" width="64.80" height="17.70" fill="#CCCEDC"/>
<rect x="1593.50" y="306.40" width="64.80" height="17.70" fill="#E0E1EA"/>
<rect x="1658.00" y="306.40" width="64.80" height="17.70" fill="#D1D3DF"/>
<rect x="1271.00" y="323.80" width="64.80" height="17.70" fill="#ECB9B4"/>
<rect x="1335.50" y="323.80" width="64.80" height="17.70" fill="#ECB9B4"/>
<rect x="1400.00" y="323.80" width="64.80" height="17.70" fill="#F4D0CC"/>
<rect x="1464.50" y="323.80" width="64.80" height="17.70" fill="#ECB9B4"/>
<rect x="1529.00" y="323.80" width="64.80" height="17.70" fill="#FFFFFF"/>
<rect x="1593.50" y="323.80" width="64.80" height="17.70" fill="#EAEBF1"/>
<rect x="1658.00" y="323.80" width="64.80" height="17.70" fill="#DDDFE8"/>
<rect x="1271.00" y="341.20" width="64.80" height="17.70" fill="#DD8F89"/>
<rect x="1335.50" y="341.20" width="64.80" height="17.70" fill="#FDF3F2"/>
<rect x="1400.00" y="341.20" width="64.80" height="17.70" fill="#F7F8FA"/>
<rect x="1464.50" y="341.20" width="64.80" height="17.70" fill="#F4D0CC"/>
<rect x="1529.00" y="341.20" width="64.80" height="17.70" fill="#F6D7D4"/>
<rect x="1593.50" y="341.20" width="64.80" height="17.70" fill="#B2B6CB"/>
<rect x="1658.00" y="341.20" width="64.80" height="17.70" fill="#A3A8C0"/>
<rect x="1271.00" y="358.60" width="64.80" height="17.70" fill="#E0E1EA"/>
<rect x="1335.50" y="358.60" width="64.80" height="17.70" fill="#EDEEF3"/>
<rect x="1400.00" y="358.60" width="64.80" height="17.70" fill="#F7DCD9"/>
<rect x="1464.50" y="358.60" width="64.80" height="17.70" fill="#F5D5D1"/>
<rect x="1529.00" y="358.60" width="64.80" height="17.70" fill="#EFC2BD"/>
<rect x="1593.50" y="358.60" width="64.80" height="17.70" fill="#F5D5D1"/>
<rect x="1658.00" y="358.60" width="64.80" height="17.70" fill="#F2CBC7"/>
<rect x="1271.00" y="376.00" width="64.80" height="17.70" fill="#F7DCD9"/>
<rect x="1335.50" y="376.00" width="64.80" height="17.70" fill="#F5D5D1"/>
<rect x="1400.00" y="376.00" width="64.80" height="17.70" fill="#F4D0CC"/>
<rect x="1464.50" y="376.00" width="64.80" height="17.70" fill="#E4A29C"/>
<rect x="1529.00" y="376.00" width="64.80" height="17.70" fill="#F0C4C0"/>
<rect x="1593.50" y="376.00" width="64.80" height="17.70" fill="#F7F8FA"/>
<rect x="1658.00" y="376.00" width="64.80" height="17.70" fill="#F7DCD9"/>
<rect x="1271.00" y="393.40" width="64.80" height="17.70" fill="#F9E3E0"/>
<rect x="1335.50" y="393.40" width="64.80" height="17.70" fill="#EAB2AC"/>
<rect x="1400.00" y="393.40" width="64.80" height="17.70" fill="#EFC2BD"/>
<rect x="1464.50" y="393.40" width="64.80" height="17.70" fill="#E4A29C"/>
<rect x="1529.00" y="393.40" width="64.80" height="17.70" fill="#FCF1F0"/>
<rect x="1593.50" y="393.40" width="64.80" height="17.70" fill="#E7A9A3"/>
<rect x="1658.00" y="393.40" width="64.80" height="17.70" fill="#F7DCD9"/>
<rect x="1271.00" y="412.80" width="64.80" height="17.70" fill="#FEFAFA"/>
<rect x="1335.50" y="412.80" width="64.80" height="17.70" fill="#BD4B49"/>
<rect x="1400.00" y="412.80" width="64.80" height="17.70" fill="#B33539"/>
<rect x="1464.50" y="412.80" width="64.80" height="17.70" fill="#BD4B49"/>
<rect x="1529.00" y="412.80" width="64.80" height="17.70" fill="#D67F79"/>
<rect x="1593.50" y="412.80" width="64.80" height="17.70" fill="#B33539"/>
<rect x="1658.00" y="412.80" width="64.80" height="17.70" fill="#B94343"/>
<rect x="1271.00" y="430.20" width="64.80" height="17.70" fill="#EDEEF3"/>
<rect x="1335.50" y="430.20" width="64.80" height="17.70" fill="#CE6F69"/>
<rect x="1400.00" y="430.20" width="64.80" height="17.70" fill="#CD6C67"/>
<rect x="1464.50" y="430.20" width="64.80" height="17.70" fill="#D27872"/>
<rect x="1529.00" y="430.20" width="64.80" height="17.70" fill="#E4A29C"/>
<rect x="1593.50" y="430.20" width="64.80" height="17.70" fill="#C7615C"/>
<rect x="1658.00" y="430.20" width="64.80" height="17.70" fill="#C7615C"/>
<rect x="1271.00" y="449.60" width="64.80" height="17.64" fill="#8188A9"/>
<rect x="1335.50" y="449.60" width="64.80" height="17.64" fill="#F4D0CC"/>
<rect x="1400.00" y="449.60" width="64.80" height="17.64" fill="#E8ADA8"/>
<rect x="1464.50" y="449.60" width="64.80" height="17.64" fill="#ECB9B4"/>
<rect x="1529.00" y="449.60" width="64.80" height="17.64" fill="#F4D0CC"/>
<rect x="1593.50" y="449.60" width="64.80" height="17.64" fill="#D67F79"/>
<rect x="1658.00" y="449.60" width="64.80" height="17.64" fill="#C35754"/>
<rect x="1271.00" y="466.94" width="64.80" height="17.64" fill="#737B9F"/>
<rect x="1335.50" y="466.94" width="64.80" height="17.64" fill="#F4D0CC"/>
<rect x="1400.00" y="466.94" width="64.80" height="17.64" fill="#ECB9B4"/>
<rect x="1464.50" y="466.94" width="64.80" height="17.64" fill="#E8ADA8"/>
<rect x="1529.00" y="466.94" width="64.80" height="17.64" fill="#F6D9D6"/>
<rect x="1593.50" y="466.94" width="64.80" height="17.64" fill="#CB6863"/>
<rect x="1658.00" y="466.94" width="64.80" height="17.64" fill="#C35754"/>
<rect x="1271.00" y="484.29" width="64.80" height="17.64" fill="#8188A9"/>
<rect x="1335.50" y="484.29" width="64.80" height="17.64" fill="#FBECEA"/>
<rect x="1400.00" y="484.29" width="64.80" height="17.64" fill="#E7A9A3"/>
<rect x="1464.50" y="484.29" width="64.80" height="17.64" fill="#ECB9B4"/>
<rect x="1529.00" y="484.29" width="64.80" height="17.64" fill="#E8ADA8"/>
<rect x="1593.50" y="484.29" width="64.80" height="17.64" fill="#CE6F69"/>
<rect x="1658.00" y="484.29" width="64.80" height="17.64" fill="#BD4B49"/>
<rect x="1271.00" y="501.63" width="64.80" height="17.64" fill="#A6ABC2"/>
<rect x="1335.50" y="501.63" width="64.80" height="17.64" fill="#EFC2BD"/>
<rect x="1400.00" y="501.63" width="64.80" height="17.64" fill="#E8ADA8"/>
<rect x="1464.50" y="501.63" width="64.80" height="17.64" fill="#E29D97"/>
<rect x="1529.00" y="501.63" width="64.80" height="17.64" fill="#F2C9C5"/>
<rect x="1593.50" y="501.63" width="64.80" height="17.64" fill="#C7615C"/>
<rect x="1658.00" y="501.63" width="64.80" height="17.64" fill="#CE6F69"/>
<rect x="1271.00" y="518.97" width="64.80" height="17.64" fill="#55628B"/>
<rect x="1335.50" y="518.97" width="64.80" height="17.64" fill="#EDEEF3"/>
<rect x="1400.00" y="518.97" width="64.80" height="17.64" fill="#EFC0BB"/>
<rect x="1464.50" y="518.97" width="64.80" height="17.64" fill="#F7DCD9"/>
<rect x="1529.00" y="518.97" width="64.80" height="17.64" fill="#F4D0CC"/>
<rect x="1593.50" y="518.97" width="64.80" height="17.64" fill="#D67F79"/>
<rect x="1658.00" y="518.97" width="64.80" height="17.64" fill="#BF504D"/>
<rect x="1271.00" y="536.31" width="64.80" height="17.64" fill="#697398"/>
<rect x="1335.50" y="536.31" width="64.80" height="17.64" fill="#BFC2D3"/>
<rect x="1400.00" y="536.31" width="64.80" height="17.64" fill="#C6C9D8"/>
<rect x="1464.50" y="536.31" width="64.80" height="17.64" fill="#DBDCE6"/>
<rect x="1529.00" y="536.31" width="64.80" height="17.64" fill="#DBDCE6"/>
<rect x="1593.50" y="536.31" width="64.80" height="17.64" fill="#F9E3E0"/>
<rect x="1658.00" y="536.31" width="64.80" height="17.64" fill="#ECB9B4"/>
<rect x="1271.00" y="553.66" width="64.80" height="17.64" fill="#737B9F"/>
<rect x="1335.50" y="553.66" width="64.80" height="17.64" fill="#A6ABC2"/>
<rect x="1400.00" y="553.66" width="64.80" height="17.64" fill="#E8E9EF"/>
<rect x="1464.50" y="553.66" width="64.80" height="17.64" fill="#DBDCE6"/>
<rect x="1529.00" y="553.66" width="64.80" height="17.64" fill="#F9E3E0"/>
<rect x="1593.50" y="553.66" width="64.80" height="17.64" fill="#F0C4C0"/>
<rect x="1658.00" y="553.66" width="64.80" height="17.64" fill="#E4A29C"/>
<rect x="1271.00" y="574.50" width="64.80" height="17.77" fill="#A6ABC2"/>
<rect x="1335.50" y="574.50" width="64.80" height="17.77" fill="#2F4373"/>
<rect x="1400.00" y="574.50" width="64.80" height="17.77" fill="#324575"/>
<rect x="1464.50" y="574.50" width="64.80" height="17.77" fill="#445380"/>
<rect x="1529.00" y="574.50" width="64.80" height="17.77" fill="#A6ABC2"/>
<rect x="1593.50" y="574.50" width="64.80" height="17.77" fill="#5D6890"/>
<rect x="1658.00" y="574.50" width="64.80" height="17.77" fill="#757DA0"/>
<rect x="1271.00" y="591.97" width="64.80" height="17.77" fill="#B2B6CB"/>
<rect x="1335.50" y="591.97" width="64.80" height="17.77" fill="#3F4F7D"/>
<rect x="1400.00" y="591.97" width="64.80" height="17.77" fill="#374978"/>
<rect x="1464.50" y="591.97" width="64.80" height="17.77" fill="#445380"/>
<rect x="1529.00" y="591.97" width="64.80" height="17.77" fill="#9298B5"/>
<rect x="1593.50" y="591.97" width="64.80" height="17.77" fill="#5D6890"/>
<rect x="1658.00" y="591.97" width="64.80" height="17.77" fill="#757DA0"/>
<rect x="1271.00" y="609.43" width="64.80" height="17.77" fill="#8D94B1"/>
<rect x="1335.50" y="609.43" width="64.80" height="17.77" fill="#273E6E"/>
<rect x="1400.00" y="609.43" width="64.80" height="17.77" fill="#1A3668"/>
<rect x="1464.50" y="609.43" width="64.80" height="17.77" fill="#324575"/>
<rect x="1529.00" y="609.43" width="64.80" height="17.77" fill="#757DA0"/>
<rect x="1593.50" y="609.43" width="64.80" height="17.77" fill="#646E95"/>
<rect x="1658.00" y="609.43" width="64.80" height="17.77" fill="#8D94B1"/>
<rect x="1271.00" y="626.90" width="64.80" height="17.77" fill="#8188A9"/>
<rect x="1335.50" y="626.90" width="64.80" height="17.77" fill="#1A3668"/>
<rect x="1400.00" y="626.90" width="64.80" height="17.77" fill="#1A3668"/>
<rect x="1464.50" y="626.90" width="64.80" height="17.77" fill="#324575"/>
<rect x="1529.00" y="626.90" width="64.80" height="17.77" fill="#868DAC"/>
<rect x="1593.50" y="626.90" width="64.80" height="17.77" fill="#70799D"/>
<rect x="1658.00" y="626.90" width="64.80" height="17.77" fill="#868DAC"/>
<rect x="1271.00" y="644.37" width="64.80" height="17.77" fill="#9A9FBA"/>
<rect x="1335.50" y="644.37" width="64.80" height="17.77" fill="#3F4F7D"/>
<rect x="1400.00" y="644.37" width="64.80" height="17.77" fill="#5D6890"/>
<rect x="1464.50" y="644.37" width="64.80" height="17.77" fill="#445380"/>
<rect x="1529.00" y="644.37" width="64.80" height="17.77" fill="#8D94B1"/>
<rect x="1593.50" y="644.37" width="64.80" height="17.77" fill="#9FA4BD"/>
<rect x="1658.00" y="644.37" width="64.80" height="17.77" fill="#9A9FBA"/>
<rect x="1271.00" y="661.83" width="64.80" height="17.77" fill="#9A9FBA"/>
<rect x="1335.50" y="661.83" width="64.80" height="17.77" fill="#3C4D7B"/>
<rect x="1400.00" y="661.83" width="64.80" height="17.77" fill="#5D6890"/>
<rect x="1464.50" y="661.83" width="64.80" height="17.77" fill="#6E779B"/>
<rect x="1529.00" y="661.83" width="64.80" height="17.77" fill="#8D94B1"/>
<rect x="1593.50" y="661.83" width="64.80" height="17.77" fill="#8188A9"/>
<rect x="1658.00" y="661.83" width="64.80" height="17.77" fill="#9FA4BD"/>
<rect x="1271.00" y="679.30" width="64.80" height="17.77" fill="#ABAFC5"/>
<rect x="1335.50" y="679.30" width="64.80" height="17.77" fill="#505E88"/>
<rect x="1400.00" y="679.30" width="64.80" height="17.77" fill="#55628B"/>
<rect x="1464.50" y="679.30" width="64.80" height="17.77" fill="#697398"/>
<rect x="1529.00" y="679.30" width="64.80" height="17.77" fill="#E0E1EA"/>
<rect x="1593.50" y="679.30" width="64.80" height="17.77" fill="#8188A9"/>
<rect x="1658.00" y="679.30" width="64.80" height="17.77" fill="#B2B6CB"/>
<rect x="1271.00" y="696.77" width="64.80" height="17.77" fill="#646E95"/>
<rect x="1335.50" y="696.77" width="64.80" height="17.77" fill="#3F4F7D"/>
<rect x="1400.00" y="696.77" width="64.80" height="17.77" fill="#757DA0"/>
<rect x="1464.50" y="696.77" width="64.80" height="17.77" fill="#646E95"/>
<rect x="1529.00" y="696.77" width="64.80" height="17.77" fill="#A6ABC2"/>
<rect x="1593.50" y="696.77" width="64.80" height="17.77" fill="#D3D5E1"/>
<rect x="1658.00" y="696.77" width="64.80" height="17.77" fill="#FFFFFF"/>
<rect x="1271.00" y="714.23" width="64.80" height="17.77" fill="#D3D5E1"/>
<rect x="1335.50" y="714.23" width="64.80" height="17.77" fill="#697398"/>
<rect x="1400.00" y="714.23" width="64.80" height="17.77" fill="#3C4D7B"/>
<rect x="1464.50" y="714.23" width="64.80" height="17.77" fill="#5D6890"/>
<rect x="1529.00" y="714.23" width="64.80" height="17.77" fill="#8188A9"/>
<rect x="1593.50" y="714.23" width="64.80" height="17.77" fill="#55628B"/>
<rect x="1658.00" y="714.23" width="64.80" height="17.77" fill="#7C84A5"/>
<rect x="1271.00" y="734.00" width="64.80" height="17.72" fill="#F2F3F6"/>
<rect x="1335.50" y="734.00" width="64.80" height="17.72" fill="#757DA0"/>
<rect x="1400.00" y="734.00" width="64.80" height="17.72" fill="#55628B"/>
<rect x="1464.50" y="734.00" width="64.80" height="17.72" fill="#697398"/>
<rect x="1529.00" y="734.00" width="64.80" height="17.72" fill="#7C84A5"/>
<rect x="1593.50" y="734.00" width="64.80" height="17.72" fill="#55628B"/>
<rect x="1658.00" y="734.00" width="64.80" height="17.72" fill="#697398"/>
<rect x="1271.00" y="751.42" width="64.80" height="17.72" fill="#EAEBF1"/>
<rect x="1335.50" y="751.42" width="64.80" height="17.72" fill="#697398"/>
<rect x="1400.00" y="751.42" width="64.80" height="17.72" fill="#3F4F7D"/>
<rect x="1464.50" y="751.42" width="64.80" height="17.72" fill="#697398"/>
<rect x="1529.00" y="751.42" width="64.80" height="17.72" fill="#ABAFC5"/>
<rect x="1593.50" y="751.42" width="64.80" height="17.72" fill="#5A668E"/>
<rect x="1658.00" y="751.42" width="64.80" height="17.72" fill="#5A668E"/>
<rect x="1271.00" y="768.85" width="64.80" height="17.72" fill="#DBDCE6"/>
<rect x="1335.50" y="768.85" width="64.80" height="17.72" fill="#8D94B1"/>
<rect x="1400.00" y="768.85" width="64.80" height="17.72" fill="#757DA0"/>
<rect x="1464.50" y="768.85" width="64.80" height="17.72" fill="#959AB6"/>
<rect x="1529.00" y="768.85" width="64.80" height="17.72" fill="#ADB2C7"/>
<rect x="1593.50" y="768.85" width="64.80" height="17.72" fill="#6E779B"/>
<rect x="1658.00" y="768.85" width="64.80" height="17.72" fill="#8D94B1"/>
<rect x="1271.00" y="786.27" width="64.80" height="17.72" fill="#FEFAFA"/>
<rect x="1335.50" y="786.27" width="64.80" height="17.72" fill="#70799D"/>
<rect x="1400.00" y="786.27" width="64.80" height="17.72" fill="#5D6890"/>
<rect x="1464.50" y="786.27" width="64.80" height="17.72" fill="#868DAC"/>
<rect x="1529.00" y="786.27" width="64.80" height="17.72" fill="#DBDCE6"/>
<rect x="1593.50" y="786.27" width="64.80" height="17.72" fill="#374978"/>
<rect x="1658.00" y="786.27" width="64.80" height="17.72" fill="#374978"/>
<rect x="1271.00" y="803.70" width="64.80" height="17.72" fill="#C6C9D8"/>
<rect x="1335.50" y="803.70" width="64.80" height="17.72" fill="#324575"/>
<rect x="1400.00" y="803.70" width="64.80" height="17.72" fill="#324575"/>
<rect x="1464.50" y="803.70" width="64.80" height="17.72" fill="#445380"/>
<rect x="1529.00" y="803.70" width="64.80" height="17.72" fill="#ADB2C7"/>
<rect x="1593.50" y="803.70" width="64.80" height="17.72" fill="#3C4D7B"/>
<rect x="1658.00" y="803.70" width="64.80" height="17.72" fill="#55628B"/>
<rect x="1271.00" y="821.12" width="64.80" height="17.72" fill="#B2B6CB"/>
<rect x="1335.50" y="821.12" width="64.80" height="17.72" fill="#203A6B"/>
<rect x="1400.00" y="821.12" width="64.80" height="17.72" fill="#203A6B"/>
<rect x="1464.50" y="821.12" width="64.80" height="17.72" fill="#445380"/>
<rect x="1529.00" y="821.12" width="64.80" height="17.72" fill="#ADB2C7"/>
<rect x="1593.50" y="821.12" width="64.80" height="17.72" fill="#3C4D7B"/>
<rect x="1658.00" y="821.12" width="64.80" height="17.72" fill="#646E95"/>
<rect x="1271.00" y="838.55" width="64.80" height="17.72" fill="#BABDD0"/>
<rect x="1335.50" y="838.55" width="64.80" height="17.72" fill="#203A6B"/>
<rect x="1400.00" y="838.55" width="64.80" height="17.72" fill="#022D60"/>
<rect x="1464.50" y="838.55" width="64.80" height="17.72" fill="#294070"/>
<rect x="1529.00" y="838.55" width="64.80" height="17.72" fill="#8188A9"/>
<rect x="1593.50" y="838.55" width="64.80" height="17.72" fill="#3C4D7B"/>
<rect x="1658.00" y="838.55" width="64.80" height="17.72" fill="#55628B"/>
<rect x="1271.00" y="855.98" width="64.80" height="17.72" fill="#CCCEDC"/>
<rect x="1335.50" y="855.98" width="64.80" height="17.72" fill="#55628B"/>
<rect x="1400.00" y="855.98" width="64.80" height="17.72" fill="#324575"/>
<rect x="1464.50" y="855.98" width="64.80" height="17.72" fill="#55628B"/>
<rect x="1529.00" y="855.98" width="64.80" height="17.72" fill="#55628B"/>
<rect x="1593.50" y="855.98" width="64.80" height="17.72" fill="#445380"/>
<rect x="1658.00" y="855.98" width="64.80" height="17.72" fill="#646E95"/>
<rect x="1271.00" y="876.50" width="64.80" height="17.60" fill="#C6C9D8"/>
<rect x="1335.50" y="876.50" width="64.80" height="17.60" fill="#9FA4BD"/>
<rect x="1400.00" y="876.50" width="64.80" height="17.60" fill="#B2B6CB"/>
<rect x="1464.50" y="876.50" width="64.80" height="17.60" fill="#C4C7D7"/>
<rect x="1529.00" y="876.50" width="64.80" height="17.60" fill="#C4C7D7"/>
<rect x="1593.50" y="876.50" width="64.80" height="17.60" fill="#ABAFC5"/>
<rect x="1658.00" y="876.50" width="64.80" height="17.60" fill="#D3D5E1"/>
<rect x="1271.00" y="893.80" width="64.80" height="17.60" fill="#DBDCE6"/>
<rect x="1335.50" y="893.80" width="64.80" height="17.60" fill="#8D94B1"/>
<rect x="1400.00" y="893.80" width="64.80" height="17.60" fill="#8188A9"/>
<rect x="1464.50" y="893.80" width="64.80" height="17.60" fill="#9FA4BD"/>
<rect x="1529.00" y="893.80" width="64.80" height="17.60" fill="#FCF1F0"/>
<rect x="1593.50" y="893.80" width="64.80" height="17.60" fill="#9FA4BD"/>
<rect x="1658.00" y="893.80" width="64.80" height="17.60" fill="#C6C9D8"/>
<rect x="1271.00" y="911.10" width="64.80" height="17.60" fill="#F0C4C0"/>
<rect x="1335.50" y="911.10" width="64.80" height="17.60" fill="#A6ABC2"/>
<rect x="1400.00" y="911.10" width="64.80" height="17.60" fill="#8188A9"/>
<rect x="1464.50" y="911.10" width="64.80" height="17.60" fill="#C4C7D7"/>
<rect x="1529.00" y="911.10" width="64.80" height="17.60" fill="#E5E6ED"/>
<rect x="1593.50" y="911.10" width="64.80" height="17.60" fill="#495783"/>
<rect x="1658.00" y="911.10" width="64.80" height="17.60" fill="#495783"/>
<rect x="1271.00" y="928.40" width="64.80" height="17.60" fill="#ECB9B4"/>
<rect x="1335.50" y="928.40" width="64.80" height="17.60" fill="#B2B6CB"/>
<rect x="1400.00" y="928.40" width="64.80" height="17.60" fill="#8188A9"/>
<rect x="1464.50" y="928.40" width="64.80" height="17.60" fill="#CCCEDC"/>
<rect x="1529.00" y="928.40" width="64.80" height="17.60" fill="#B2B6CB"/>
<rect x="1593.50" y="928.40" width="64.80" height="17.60" fill="#697398"/>
<rect x="1658.00" y="928.40" width="64.80" height="17.60" fill="#646E95"/>
<rect x="1271.00" y="945.70" width="64.80" height="17.60" fill="#FDF3F2"/>
<rect x="1335.50" y="945.70" width="64.80" height="17.60" fill="#ABAFC5"/>
<rect x="1400.00" y="945.70" width="64.80" height="17.60" fill="#8188A9"/>
<rect x="1464.50" y="945.70" width="64.80" height="17.60" fill="#B2B6CB"/>
<rect x="1529.00" y="945.70" width="64.80" height="17.60" fill="#CCCEDC"/>
<rect x="1593.50" y="945.70" width="64.80" height="17.60" fill="#7C84A5"/>
<rect x="1658.00" y="945.70" width="64.80" height="17.60" fill="#697398"/>
<line x1="1464.50" y1="144.16" x2="1529.00" y2="144.16" stroke="#111111" stroke-width="1.3" stroke-linecap="square"/>
<line x1="1464.50" y1="144.16" x2="1464.50" y2="161.67" stroke="#111111" stroke-width="1.3" stroke-linecap="square"/>
<line x1="1529.00" y1="144.16" x2="1529.00" y2="161.67" stroke="#111111" stroke-width="1.3" stroke-linecap="square"/>
<line x1="1335.50" y1="161.67" x2="1400.00" y2="161.67" stroke="#111111" stroke-width="1.3" stroke-linecap="square"/>
<line x1="1335.50" y1="161.67" x2="1335.50" y2="179.18" stroke="#111111" stroke-width="1.3" stroke-linecap="square"/>
<line x1="1400.00" y1="161.67" x2="1400.00" y2="179.18" stroke="#111111" stroke-width="1.3" stroke-linecap="square"/>
<line x1="1464.50" y1="161.67" x2="1464.50" y2="179.18" stroke="#111111" stroke-width="1.3" stroke-linecap="square"/>
<line x1="1529.00" y1="161.67" x2="1529.00" y2="179.18" stroke="#111111" stroke-width="1.3" stroke-linecap="square"/>
<line x1="1335.50" y1="179.18" x2="1335.50" y2="196.69" stroke="#111111" stroke-width="1.3" stroke-linecap="square"/>
<line x1="1400.00" y1="179.18" x2="1400.00" y2="196.69" stroke="#111111" stroke-width="1.3" stroke-linecap="square"/>
<line x1="1464.50" y1="179.18" x2="1464.50" y2="196.69" stroke="#111111" stroke-width="1.3" stroke-linecap="square"/>
<line x1="1529.00" y1="179.18" x2="1529.00" y2="196.69" stroke="#111111" stroke-width="1.3" stroke-linecap="square"/>
<line x1="1335.50" y1="214.20" x2="1400.00" y2="214.20" stroke="#111111" stroke-width="1.3" stroke-linecap="square"/>
<line x1="1335.50" y1="196.69" x2="1335.50" y2="214.20" stroke="#111111" stroke-width="1.3" stroke-linecap="square"/>
<line x1="1400.00" y1="196.69" x2="1464.50" y2="196.69" stroke="#111111" stroke-width="1.3" stroke-linecap="square"/>
<line x1="1400.00" y1="214.20" x2="1464.50" y2="214.20" stroke="#111111" stroke-width="1.3" stroke-linecap="square"/>
<line x1="1464.50" y1="214.20" x2="1529.00" y2="214.20" stroke="#111111" stroke-width="1.3" stroke-linecap="square"/>
<line x1="1529.00" y1="196.69" x2="1529.00" y2="214.20" stroke="#111111" stroke-width="1.3" stroke-linecap="square"/>
<line x1="1335.50" y1="216.90" x2="1400.00" y2="216.90" stroke="#111111" stroke-width="1.3" stroke-linecap="square"/>
<line x1="1335.50" y1="234.28" x2="1400.00" y2="234.28" stroke="#111111" stroke-width="1.3" stroke-linecap="square"/>
<line x1="1335.50" y1="216.90" x2="1335.50" y2="234.28" stroke="#111111" stroke-width="1.3" stroke-linecap="square"/>
<line x1="1400.00" y1="216.90" x2="1400.00" y2="234.28" stroke="#111111" stroke-width="1.3" stroke-linecap="square"/>
<line x1="1335.50" y1="412.80" x2="1400.00" y2="412.80" stroke="#111111" stroke-width="1.3" stroke-linecap="square"/>
<line x1="1335.50" y1="430.20" x2="1400.00" y2="430.20" stroke="#111111" stroke-width="1.3" stroke-linecap="square"/>
<line x1="1335.50" y1="412.80" x2="1335.50" y2="430.20" stroke="#111111" stroke-width="1.3" stroke-linecap="square"/>
<line x1="1400.00" y1="412.80" x2="1464.50" y2="412.80" stroke="#111111" stroke-width="1.3" stroke-linecap="square"/>
<line x1="1400.00" y1="430.20" x2="1464.50" y2="430.20" stroke="#111111" stroke-width="1.3" stroke-linecap="square"/>
<line x1="1464.50" y1="412.80" x2="1529.00" y2="412.80" stroke="#111111" stroke-width="1.3" stroke-linecap="square"/>
<line x1="1464.50" y1="430.20" x2="1529.00" y2="430.20" stroke="#111111" stroke-width="1.3" stroke-linecap="square"/>
<line x1="1529.00" y1="412.80" x2="1529.00" y2="430.20" stroke="#111111" stroke-width="1.3" stroke-linecap="square"/>
<line x1="1593.50" y1="412.80" x2="1658.00" y2="412.80" stroke="#111111" stroke-width="1.3" stroke-linecap="square"/>
<line x1="1593.50" y1="412.80" x2="1593.50" y2="430.20" stroke="#111111" stroke-width="1.3" stroke-linecap="square"/>
<line x1="1658.00" y1="412.80" x2="1722.50" y2="412.80" stroke="#111111" stroke-width="1.3" stroke-linecap="square"/>
<line x1="1722.50" y1="412.80" x2="1722.50" y2="430.20" stroke="#111111" stroke-width="1.3" stroke-linecap="square"/>
<line x1="1593.50" y1="447.60" x2="1658.00" y2="447.60" stroke="#111111" stroke-width="1.3" stroke-linecap="square"/>
<line x1="1593.50" y1="430.20" x2="1593.50" y2="447.60" stroke="#111111" stroke-width="1.3" stroke-linecap="square"/>
<line x1="1658.00" y1="447.60" x2="1722.50" y2="447.60" stroke="#111111" stroke-width="1.3" stroke-linecap="square"/>
<line x1="1722.50" y1="430.20" x2="1722.50" y2="447.60" stroke="#111111" stroke-width="1.3" stroke-linecap="square"/>
<line x1="1658.00" y1="449.60" x2="1722.50" y2="449.60" stroke="#111111" stroke-width="1.3" stroke-linecap="square"/>
<line x1="1658.00" y1="449.60" x2="1658.00" y2="466.94" stroke="#111111" stroke-width="1.3" stroke-linecap="square"/>
<line x1="1722.50" y1="449.60" x2="1722.50" y2="466.94" stroke="#111111" stroke-width="1.3" stroke-linecap="square"/>
<line x1="1658.00" y1="466.94" x2="1658.00" y2="484.29" stroke="#111111" stroke-width="1.3" stroke-linecap="square"/>
<line x1="1722.50" y1="466.94" x2="1722.50" y2="484.29" stroke="#111111" stroke-width="1.3" stroke-linecap="square"/>
<line x1="1658.00" y1="501.63" x2="1722.50" y2="501.63" stroke="#111111" stroke-width="1.3" stroke-linecap="square"/>
<line x1="1658.00" y1="484.29" x2="1658.00" y2="501.63" stroke="#111111" stroke-width="1.3" stroke-linecap="square"/>
<line x1="1722.50" y1="484.29" x2="1722.50" y2="501.63" stroke="#111111" stroke-width="1.3" stroke-linecap="square"/>
<line x1="1593.50" y1="501.63" x2="1658.00" y2="501.63" stroke="#111111" stroke-width="1.3" stroke-linecap="square"/>
<line x1="1593.50" y1="518.97" x2="1658.00" y2="518.97" stroke="#111111" stroke-width="1.3" stroke-linecap="square"/>
<line x1="1593.50" y1="501.63" x2="1593.50" y2="518.97" stroke="#111111" stroke-width="1.3" stroke-linecap="square"/>
<line x1="1658.00" y1="501.63" x2="1658.00" y2="518.97" stroke="#111111" stroke-width="1.3" stroke-linecap="square"/>
<line x1="1658.00" y1="518.97" x2="1722.50" y2="518.97" stroke="#111111" stroke-width="1.3" stroke-linecap="square"/>
<line x1="1658.00" y1="536.31" x2="1722.50" y2="536.31" stroke="#111111" stroke-width="1.3" stroke-linecap="square"/>
<line x1="1658.00" y1="518.97" x2="1658.00" y2="536.31" stroke="#111111" stroke-width="1.3" stroke-linecap="square"/>
<line x1="1722.50" y1="518.97" x2="1722.50" y2="536.31" stroke="#111111" stroke-width="1.3" stroke-linecap="square"/>
<line x1="1335.50" y1="574.50" x2="1400.00" y2="574.50" stroke="#F4F4F8" stroke-width="1.3" stroke-linecap="square"/>
<line x1="1335.50" y1="574.50" x2="1335.50" y2="591.97" stroke="#F4F4F8" stroke-width="1.3" stroke-linecap="square"/>
<line x1="1400.00" y1="574.50" x2="1464.50" y2="574.50" stroke="#F4F4F8" stroke-width="1.3" stroke-linecap="square"/>
<line x1="1464.50" y1="574.50" x2="1529.00" y2="574.50" stroke="#F4F4F8" stroke-width="1.3" stroke-linecap="square"/>
<line x1="1529.00" y1="574.50" x2="1529.00" y2="591.97" stroke="#F4F4F8" stroke-width="1.3" stroke-linecap="square"/>
<line x1="1335.50" y1="591.97" x2="1335.50" y2="609.43" stroke="#F4F4F8" stroke-width="1.3" stroke-linecap="square"/>
<line x1="1529.00" y1="591.97" x2="1529.00" y2="609.43" stroke="#F4F4F8" stroke-width="1.3" stroke-linecap="square"/>
<line x1="1335.50" y1="609.43" x2="1335.50" y2="626.90" stroke="#F4F4F8" stroke-width="1.3" stroke-linecap="square"/>
<line x1="1529.00" y1="609.43" x2="1529.00" y2="626.90" stroke="#F4F4F8" stroke-width="1.3" stroke-linecap="square"/>
<line x1="1335.50" y1="626.90" x2="1335.50" y2="644.37" stroke="#F4F4F8" stroke-width="1.3" stroke-linecap="square"/>
<line x1="1529.00" y1="626.90" x2="1529.00" y2="644.37" stroke="#F4F4F8" stroke-width="1.3" stroke-linecap="square"/>
<line x1="1335.50" y1="644.37" x2="1335.50" y2="661.83" stroke="#F4F4F8" stroke-width="1.3" stroke-linecap="square"/>
<line x1="1464.50" y1="661.83" x2="1529.00" y2="661.83" stroke="#F4F4F8" stroke-width="1.3" stroke-linecap="square"/>
<line x1="1529.00" y1="644.37" x2="1529.00" y2="661.83" stroke="#F4F4F8" stroke-width="1.3" stroke-linecap="square"/>
<line x1="1335.50" y1="661.83" x2="1335.50" y2="679.30" stroke="#F4F4F8" stroke-width="1.3" stroke-linecap="square"/>
<line x1="1464.50" y1="661.83" x2="1464.50" y2="679.30" stroke="#F4F4F8" stroke-width="1.3" stroke-linecap="square"/>
<line x1="1335.50" y1="679.30" x2="1335.50" y2="696.77" stroke="#F4F4F8" stroke-width="1.3" stroke-linecap="square"/>
<line x1="1400.00" y1="696.77" x2="1464.50" y2="696.77" stroke="#F4F4F8" stroke-width="1.3" stroke-linecap="square"/>
<line x1="1464.50" y1="679.30" x2="1464.50" y2="696.77" stroke="#F4F4F8" stroke-width="1.3" stroke-linecap="square"/>
<line x1="1335.50" y1="714.23" x2="1400.00" y2="714.23" stroke="#F4F4F8" stroke-width="1.3" stroke-linecap="square"/>
<line x1="1335.50" y1="696.77" x2="1335.50" y2="714.23" stroke="#F4F4F8" stroke-width="1.3" stroke-linecap="square"/>
<line x1="1400.00" y1="696.77" x2="1400.00" y2="714.23" stroke="#F4F4F8" stroke-width="1.3" stroke-linecap="square"/>
<line x1="1400.00" y1="714.23" x2="1464.50" y2="714.23" stroke="#F4F4F8" stroke-width="1.3" stroke-linecap="square"/>
<line x1="1400.00" y1="731.70" x2="1464.50" y2="731.70" stroke="#F4F4F8" stroke-width="1.3" stroke-linecap="square"/>
<line x1="1400.00" y1="714.23" x2="1400.00" y2="731.70" stroke="#F4F4F8" stroke-width="1.3" stroke-linecap="square"/>
<line x1="1464.50" y1="714.23" x2="1529.00" y2="714.23" stroke="#F4F4F8" stroke-width="1.3" stroke-linecap="square"/>
<line x1="1464.50" y1="731.70" x2="1529.00" y2="731.70" stroke="#F4F4F8" stroke-width="1.3" stroke-linecap="square"/>
<line x1="1529.00" y1="714.23" x2="1529.00" y2="731.70" stroke="#F4F4F8" stroke-width="1.3" stroke-linecap="square"/>
<line x1="1593.50" y1="714.23" x2="1658.00" y2="714.23" stroke="#F4F4F8" stroke-width="1.3" stroke-linecap="square"/>
<line x1="1593.50" y1="731.70" x2="1658.00" y2="731.70" stroke="#F4F4F8" stroke-width="1.3" stroke-linecap="square"/>
<line x1="1593.50" y1="714.23" x2="1593.50" y2="731.70" stroke="#F4F4F8" stroke-width="1.3" stroke-linecap="square"/>
<line x1="1658.00" y1="714.23" x2="1658.00" y2="731.70" stroke="#F4F4F8" stroke-width="1.3" stroke-linecap="square"/>
<line x1="1400.00" y1="734.00" x2="1464.50" y2="734.00" stroke="#F4F4F8" stroke-width="1.3" stroke-linecap="square"/>
<line x1="1400.00" y1="734.00" x2="1400.00" y2="751.42" stroke="#F4F4F8" stroke-width="1.3" stroke-linecap="square"/>
<line x1="1464.50" y1="734.00" x2="1464.50" y2="751.42" stroke="#F4F4F8" stroke-width="1.3" stroke-linecap="square"/>
<line x1="1593.50" y1="734.00" x2="1658.00" y2="734.00" stroke="#F4F4F8" stroke-width="1.3" stroke-linecap="square"/>
<line x1="1593.50" y1="734.00" x2="1593.50" y2="751.42" stroke="#F4F4F8" stroke-width="1.3" stroke-linecap="square"/>
<line x1="1658.00" y1="734.00" x2="1658.00" y2="751.42" stroke="#F4F4F8" stroke-width="1.3" stroke-linecap="square"/>
<line x1="1400.00" y1="768.85" x2="1464.50" y2="768.85" stroke="#F4F4F8" stroke-width="1.3" stroke-linecap="square"/>
<line x1="1400.00" y1="751.42" x2="1400.00" y2="768.85" stroke="#F4F4F8" stroke-width="1.3" stroke-linecap="square"/>
<line x1="1464.50" y1="751.42" x2="1464.50" y2="768.85" stroke="#F4F4F8" stroke-width="1.3" stroke-linecap="square"/>
<line x1="1593.50" y1="768.85" x2="1658.00" y2="768.85" stroke="#F4F4F8" stroke-width="1.3" stroke-linecap="square"/>
<line x1="1593.50" y1="751.42" x2="1593.50" y2="768.85" stroke="#F4F4F8" stroke-width="1.3" stroke-linecap="square"/>
<line x1="1658.00" y1="751.42" x2="1658.00" y2="768.85" stroke="#F4F4F8" stroke-width="1.3" stroke-linecap="square"/>
<line x1="1400.00" y1="786.27" x2="1464.50" y2="786.27" stroke="#F4F4F8" stroke-width="1.3" stroke-linecap="square"/>
<line x1="1400.00" y1="786.27" x2="1400.00" y2="803.70" stroke="#F4F4F8" stroke-width="1.3" stroke-linecap="square"/>
<line x1="1464.50" y1="786.27" x2="1464.50" y2="803.70" stroke="#F4F4F8" stroke-width="1.3" stroke-linecap="square"/>
<line x1="1593.50" y1="786.27" x2="1658.00" y2="786.27" stroke="#F4F4F8" stroke-width="1.3" stroke-linecap="square"/>
<line x1="1593.50" y1="786.27" x2="1593.50" y2="803.70" stroke="#F4F4F8" stroke-width="1.3" stroke-linecap="square"/>
<line x1="1658.00" y1="786.27" x2="1722.50" y2="786.27" stroke="#F4F4F8" stroke-width="1.3" stroke-linecap="square"/>
<line x1="1722.50" y1="786.27" x2="1722.50" y2="803.70" stroke="#F4F4F8" stroke-width="1.3" stroke-linecap="square"/>
<line x1="1335.50" y1="803.70" x2="1400.00" y2="803.70" stroke="#F4F4F8" stroke-width="1.3" stroke-linecap="square"/>
<line x1="1335.50" y1="803.70" x2="1335.50" y2="821.12" stroke="#F4F4F8" stroke-width="1.3" stroke-linecap="square"/>
<line x1="1464.50" y1="803.70" x2="1529.00" y2="803.70" stroke="#F4F4F8" stroke-width="1.3" stroke-linecap="square"/>
<line x1="1529.00" y1="803.70" x2="1529.00" y2="821.12" stroke="#F4F4F8" stroke-width="1.3" stroke-linecap="square"/>
<line x1="1593.50" y1="803.70" x2="1593.50" y2="821.12" stroke="#F4F4F8" stroke-width="1.3" stroke-linecap="square"/>
<line x1="1658.00" y1="821.12" x2="1722.50" y2="821.12" stroke="#F4F4F8" stroke-width="1.3" stroke-linecap="square"/>
<line x1="1722.50" y1="803.70" x2="1722.50" y2="821.12" stroke="#F4F4F8" stroke-width="1.3" stroke-linecap="square"/>
<line x1="1335.50" y1="821.12" x2="1335.50" y2="838.55" stroke="#F4F4F8" stroke-width="1.3" stroke-linecap="square"/>
<line x1="1529.00" y1="821.12" x2="1529.00" y2="838.55" stroke="#F4F4F8" stroke-width="1.3" stroke-linecap="square"/>
<line x1="1593.50" y1="821.12" x2="1593.50" y2="838.55" stroke="#F4F4F8" stroke-width="1.3" stroke-linecap="square"/>
<line x1="1658.00" y1="821.12" x2="1658.00" y2="838.55" stroke="#F4F4F8" stroke-width="1.3" stroke-linecap="square"/>
<line x1="1335.50" y1="838.55" x2="1335.50" y2="855.97" stroke="#F4F4F8" stroke-width="1.3" stroke-linecap="square"/>
<line x1="1529.00" y1="838.55" x2="1529.00" y2="855.97" stroke="#F4F4F8" stroke-width="1.3" stroke-linecap="square"/>
<line x1="1593.50" y1="838.55" x2="1593.50" y2="855.97" stroke="#F4F4F8" stroke-width="1.3" stroke-linecap="square"/>
<line x1="1658.00" y1="838.55" x2="1722.50" y2="838.55" stroke="#F4F4F8" stroke-width="1.3" stroke-linecap="square"/>
<line x1="1658.00" y1="855.97" x2="1722.50" y2="855.97" stroke="#F4F4F8" stroke-width="1.3" stroke-linecap="square"/>
<line x1="1722.50" y1="838.55" x2="1722.50" y2="855.97" stroke="#F4F4F8" stroke-width="1.3" stroke-linecap="square"/>
<line x1="1335.50" y1="873.40" x2="1400.00" y2="873.40" stroke="#F4F4F8" stroke-width="1.3" stroke-linecap="square"/>
<line x1="1335.50" y1="855.98" x2="1335.50" y2="873.40" stroke="#F4F4F8" stroke-width="1.3" stroke-linecap="square"/>
<line x1="1400.00" y1="873.40" x2="1464.50" y2="873.40" stroke="#F4F4F8" stroke-width="1.3" stroke-linecap="square"/>
<line x1="1464.50" y1="873.40" x2="1529.00" y2="873.40" stroke="#F4F4F8" stroke-width="1.3" stroke-linecap="square"/>
<line x1="1529.00" y1="855.98" x2="1529.00" y2="873.40" stroke="#F4F4F8" stroke-width="1.3" stroke-linecap="square"/>
<line x1="1593.50" y1="873.40" x2="1658.00" y2="873.40" stroke="#F4F4F8" stroke-width="1.3" stroke-linecap="square"/>
<line x1="1593.50" y1="855.98" x2="1593.50" y2="873.40" stroke="#F4F4F8" stroke-width="1.3" stroke-linecap="square"/>
<line x1="1658.00" y1="855.98" x2="1658.00" y2="873.40" stroke="#F4F4F8" stroke-width="1.3" stroke-linecap="square"/>
<line x1="1593.50" y1="911.10" x2="1658.00" y2="911.10" stroke="#F4F4F8" stroke-width="1.3" stroke-linecap="square"/>
<line x1="1593.50" y1="928.40" x2="1658.00" y2="928.40" stroke="#F4F4F8" stroke-width="1.3" stroke-linecap="square"/>
<line x1="1593.50" y1="911.10" x2="1593.50" y2="928.40" stroke="#F4F4F8" stroke-width="1.3" stroke-linecap="square"/>
<line x1="1658.00" y1="911.10" x2="1722.50" y2="911.10" stroke="#F4F4F8" stroke-width="1.3" stroke-linecap="square"/>
<line x1="1658.00" y1="928.40" x2="1722.50" y2="928.40" stroke="#F4F4F8" stroke-width="1.3" stroke-linecap="square"/>
<line x1="1722.50" y1="911.10" x2="1722.50" y2="928.40" stroke="#F4F4F8" stroke-width="1.3" stroke-linecap="square"/>
<text x="1496.75" y="158.36" font-size="14" text-anchor="middle">*</text>
<text x="1367.75" y="175.87" font-size="14" text-anchor="middle">*</text>
<text x="1496.75" y="175.87" font-size="14" text-anchor="middle">*</text>
<text x="1367.75" y="193.38" font-size="14" text-anchor="middle">*</text>
<text x="1496.75" y="193.38" font-size="14" text-anchor="middle">*</text>
<text x="1367.75" y="210.89" font-size="14" text-anchor="middle">***</text>
<text x="1432.25" y="210.89" font-size="14" text-anchor="middle">*</text>
<text x="1496.75" y="210.89" font-size="14" text-anchor="middle">*</text>
<text x="1367.75" y="231.10" font-size="14" text-anchor="middle">*</text>
<text x="1367.75" y="427.00" font-size="14" text-anchor="middle">*</text>
<text x="1432.25" y="427.00" font-size="14" text-anchor="middle">**</text>
<text x="1496.75" y="427.00" font-size="14" text-anchor="middle">*</text>
<text x="1625.75" y="427.00" font-size="14" text-anchor="middle">*</text>
<text x="1690.25" y="427.00" font-size="14" text-anchor="middle">*</text>
<text x="1625.75" y="444.40" font-size="14" text-anchor="middle">*</text>
<text x="1690.25" y="444.40" font-size="14" text-anchor="middle">*</text>
<text x="1690.25" y="463.80" font-size="14" text-anchor="middle">*</text>
<text x="1690.25" y="481.14" font-size="14" text-anchor="middle">*</text>
<text x="1690.25" y="498.49" font-size="14" text-anchor="middle">*</text>
<text x="1625.75" y="515.83" font-size="14" text-anchor="middle">*</text>
<text x="1690.25" y="533.17" font-size="14" text-anchor="middle">*</text>
<text x="1367.75" y="588.70" font-size="14" text-anchor="middle" class="w">**</text>
<text x="1432.25" y="588.70" font-size="14" text-anchor="middle" class="w">**</text>
<text x="1496.75" y="588.70" font-size="14" text-anchor="middle" class="w">*</text>
<text x="1367.75" y="606.17" font-size="14" text-anchor="middle" class="w">**</text>
<text x="1432.25" y="606.17" font-size="14" text-anchor="middle" class="w">**</text>
<text x="1496.75" y="606.17" font-size="14" text-anchor="middle" class="w">*</text>
<text x="1367.75" y="623.63" font-size="14" text-anchor="middle" class="w">**</text>
<text x="1432.25" y="623.63" font-size="14" text-anchor="middle" class="w">***</text>
<text x="1496.75" y="623.63" font-size="14" text-anchor="middle" class="w">*</text>
<text x="1367.75" y="641.10" font-size="14" text-anchor="middle" class="w">***</text>
<text x="1432.25" y="641.10" font-size="14" text-anchor="middle" class="w">***</text>
<text x="1496.75" y="641.10" font-size="14" text-anchor="middle" class="w">*</text>
<text x="1367.75" y="658.57" font-size="14" text-anchor="middle" class="w">**</text>
<text x="1432.25" y="658.57" font-size="14" text-anchor="middle" class="w">*</text>
<text x="1496.75" y="658.57" font-size="14" text-anchor="middle" class="w">*</text>
<text x="1367.75" y="676.03" font-size="14" text-anchor="middle" class="w">**</text>
<text x="1432.25" y="676.03" font-size="14" text-anchor="middle" class="w">*</text>
<text x="1367.75" y="693.50" font-size="14" text-anchor="middle" class="w">*</text>
<text x="1432.25" y="693.50" font-size="14" text-anchor="middle" class="w">*</text>
<text x="1367.75" y="710.97" font-size="14" text-anchor="middle" class="w">**</text>
<text x="1432.25" y="728.43" font-size="14" text-anchor="middle" class="w">**</text>
<text x="1496.75" y="728.43" font-size="14" text-anchor="middle" class="w">*</text>
<text x="1625.75" y="728.43" font-size="14" text-anchor="middle" class="w">*</text>
<text x="1432.25" y="748.20" font-size="14" text-anchor="middle" class="w">*</text>
<text x="1625.75" y="748.20" font-size="14" text-anchor="middle" class="w">*</text>
<text x="1432.25" y="765.62" font-size="14" text-anchor="middle" class="w">**</text>
<text x="1625.75" y="765.62" font-size="14" text-anchor="middle" class="w">*</text>
<text x="1432.25" y="800.48" font-size="14" text-anchor="middle" class="w">*</text>
<text x="1625.75" y="800.48" font-size="14" text-anchor="middle" class="w">*</text>
<text x="1690.25" y="800.48" font-size="14" text-anchor="middle" class="w">*</text>
<text x="1367.75" y="817.90" font-size="14" text-anchor="middle" class="w">**</text>
<text x="1432.25" y="817.90" font-size="14" text-anchor="middle" class="w">**</text>
<text x="1496.75" y="817.90" font-size="14" text-anchor="middle" class="w">*</text>
<text x="1625.75" y="817.90" font-size="14" text-anchor="middle" class="w">*</text>
<text x="1690.25" y="817.90" font-size="14" text-anchor="middle" class="w">*</text>
<text x="1367.75" y="835.33" font-size="14" text-anchor="middle" class="w">***</text>
<text x="1432.25" y="835.33" font-size="14" text-anchor="middle" class="w">***</text>
<text x="1496.75" y="835.33" font-size="14" text-anchor="middle" class="w">*</text>
<text x="1625.75" y="835.33" font-size="14" text-anchor="middle" class="w">*</text>
<text x="1367.75" y="852.75" font-size="14" text-anchor="middle" class="w">***</text>
<text x="1432.25" y="852.75" font-size="14" text-anchor="middle" class="w">***</text>
<text x="1496.75" y="852.75" font-size="14" text-anchor="middle" class="w">**</text>
<text x="1625.75" y="852.75" font-size="14" text-anchor="middle" class="w">*</text>
<text x="1690.25" y="852.75" font-size="14" text-anchor="middle" class="w">*</text>
<text x="1367.75" y="870.18" font-size="14" text-anchor="middle" class="w">*</text>
<text x="1432.25" y="870.18" font-size="14" text-anchor="middle" class="w">**</text>
<text x="1496.75" y="870.18" font-size="14" text-anchor="middle" class="w">*</text>
<text x="1625.75" y="870.18" font-size="14" text-anchor="middle" class="w">*</text>
<text x="1625.75" y="925.30" font-size="14" text-anchor="middle" class="w">*</text>
<text x="1690.25" y="925.30" font-size="14" text-anchor="middle" class="w">*</text>
<text x="1728.0" y="69.7" font-size="15.4" text-anchor="start"><tspan font-style="italic">Fermentimonas</tspan>_sp019136875</text>
<rect x="1958" y="56.60" width="18" height="17.81" fill="#3473D9"/>
<circle cx="1985.3" cy="65.36" r="8.4" fill="#E8161F"/>
<text x="1728.0" y="87.2" font-size="15.4" text-anchor="start">DTU098_sp002305915</text>
<rect x="1958" y="74.11" width="18" height="17.81" fill="#22CC22"/>
<text x="1728.0" y="104.7" font-size="15.4" text-anchor="start">Bact-19_sp002412425</text>
<rect x="1958" y="91.62" width="18" height="17.81" fill="#3473D9"/>
<text x="1728.0" y="122.2" font-size="15.4" text-anchor="start">Lenti-01_sp002304915</text>
<rect x="1958" y="109.13" width="18" height="17.81" fill="#834D80"/>
<text x="1728.0" y="139.7" font-size="15.4" text-anchor="start"><tspan font-style="italic">Atribacter</tspan>_sp002069605</text>
<rect x="1958" y="126.64" width="18" height="17.81" fill="#F3E24A"/>
<circle cx="1985.3" cy="135.40" r="8.4" fill="#E8161F"/>
<text x="1728.0" y="157.3" font-size="15.4" text-anchor="start">DUNF01_sp012839485</text>
<rect x="1958" y="144.16" width="18" height="17.81" fill="#024D02"/>
<text x="1728.0" y="174.8" font-size="15.4" text-anchor="start"><tspan font-style="italic">Cryptobacteroides</tspan>_sp012800665</text>
<rect x="1958" y="161.67" width="18" height="17.81" fill="#3473D9"/>
<text x="1728.0" y="192.3" font-size="15.4" text-anchor="start">UBA1179_sp002340405</text>
<rect x="1958" y="179.18" width="18" height="17.81" fill="#3473D9"/>
<circle cx="1985.3" cy="187.93" r="8.4" fill="#E8161F"/>
<text x="1728.0" y="209.8" font-size="15.4" text-anchor="start">JAAYSA01_sp012518455</text>
<rect x="1958" y="196.69" width="18" height="17.81" fill="#024D02"/>
<text x="1728.0" y="230.0" font-size="15.4" text-anchor="start">X112_species_1</text>
<rect x="1958" y="216.90" width="18" height="17.68" fill="#BBA85A"/>
<text x="1728.0" y="247.4" font-size="15.4" text-anchor="start">UBA1361_sp002306335</text>
<rect x="1958" y="234.28" width="18" height="17.68" fill="#024D02"/>
<circle cx="1985.3" cy="242.97" r="8.4" fill="#E8161F"/>
<text x="1728.0" y="264.8" font-size="15.4" text-anchor="start"><tspan font-style="italic">Methanoculleus_bourgensis</tspan></text>
<rect x="1958" y="251.66" width="18" height="17.68" fill="#9E1A8C"/>
<text x="1728.0" y="282.1" font-size="15.4" text-anchor="start">JAAZLA01_sp012799545</text>
<rect x="1958" y="269.04" width="18" height="17.68" fill="#E8C45E"/>
<text x="1728.0" y="299.5" font-size="15.4" text-anchor="start"><tspan font-style="italic">Methanoculleus</tspan>_sp012797575</text>
<rect x="1958" y="286.42" width="18" height="17.68" fill="#9E1A8C"/>
<text x="1728.0" y="319.5" font-size="15.4" text-anchor="start"><tspan font-style="italic">Methanoculleus</tspan>_species_1</text>
<rect x="1958" y="306.40" width="18" height="17.70" fill="#9E1A8C"/>
<text x="1728.0" y="336.9" font-size="15.4" text-anchor="start"><tspan font-style="italic">Methanobacterium</tspan>_sp012838205</text>
<rect x="1958" y="323.80" width="18" height="17.70" fill="#D6D6D6"/>
<text x="1728.0" y="354.3" font-size="15.4" text-anchor="start"><tspan font-style="italic">Sedimentibacter</tspan>_sp003483345</text>
<rect x="1958" y="341.20" width="18" height="17.70" fill="#4DA58A"/>
<text x="1728.0" y="371.7" font-size="15.4" text-anchor="start">UBA4175_sp002379855</text>
<rect x="1958" y="358.60" width="18" height="17.70" fill="#8A9CA6"/>
<text x="1728.0" y="389.1" font-size="15.4" text-anchor="start">UBA2558_sp002340425</text>
<rect x="1958" y="376.00" width="18" height="17.70" fill="#BBA85A"/>
<text x="1728.0" y="406.5" font-size="15.4" text-anchor="start"><tspan font-style="italic">Sphaerochaeta</tspan>_sp004294855</text>
<rect x="1958" y="393.40" width="18" height="17.70" fill="#E8C45E"/>
<circle cx="1985.3" cy="402.10" r="8.4" fill="#E8161F"/>
<text x="1728.0" y="425.9" font-size="15.4" text-anchor="start">UBA1402_sp002305085</text>
<rect x="1958" y="412.80" width="18" height="17.70" fill="#3473D9"/>
<circle cx="1985.3" cy="421.50" r="8.4" fill="#E8161F"/>
<text x="1728.0" y="443.3" font-size="15.4" text-anchor="start"><tspan font-style="italic">Palidibacter</tspan>_sp012519425</text>
<rect x="1958" y="430.20" width="18" height="17.70" fill="#3473D9"/>
<circle cx="1985.3" cy="438.90" r="8.4" fill="#E8161F"/>
<text x="1728.0" y="462.7" font-size="15.4" text-anchor="start"><tspan font-style="italic">Sphaerochaeta</tspan>_sp001604325</text>
<rect x="1958" y="449.60" width="18" height="17.64" fill="#E8C45E"/>
<text x="1728.0" y="480.0" font-size="15.4" text-anchor="start"><tspan font-style="italic">Paludibacter</tspan>_species</text>
<rect x="1958" y="466.94" width="18" height="17.64" fill="#3473D9"/>
<text x="1728.0" y="497.4" font-size="15.4" text-anchor="start"><tspan font-style="italic">Sedimentibacter</tspan>_speceis</text>
<rect x="1958" y="484.29" width="18" height="17.64" fill="#4DA58A"/>
<text x="1728.0" y="514.7" font-size="15.4" text-anchor="start">LD21_species_1</text>
<rect x="1958" y="501.63" width="18" height="17.64" fill="#3473D9"/>
<text x="1728.0" y="532.1" font-size="15.4" text-anchor="start">UBA1062_sp001896555</text>
<rect x="1958" y="518.97" width="18" height="17.64" fill="#D01C5A"/>
<text x="1728.0" y="549.4" font-size="15.4" text-anchor="start">RZYY01_sp012516825</text>
<rect x="1958" y="536.31" width="18" height="17.64" fill="#3473D9"/>
<circle cx="1985.3" cy="544.99" r="8.4" fill="#E8161F"/>
<text x="1728.0" y="566.8" font-size="15.4" text-anchor="start">DUOS01_sp002070025</text>
<rect x="1958" y="553.66" width="18" height="17.64" fill="#E8C45E"/>
<text x="1728.0" y="587.6" font-size="15.4" text-anchor="start"><tspan font-style="italic">Methanospirillum</tspan>_sp012520015</text>
<rect x="1958" y="574.50" width="18" height="17.77" fill="#9E1A8C"/>
<text x="1728.0" y="605.1" font-size="15.4" text-anchor="start">DTU024_species_1</text>
<rect x="1958" y="591.97" width="18" height="17.77" fill="#4DA58A"/>
<text x="1728.0" y="622.5" font-size="15.4" text-anchor="start"><tspan font-style="italic">Methanoculleus</tspan>_sp002497965</text>
<rect x="1958" y="609.43" width="18" height="17.77" fill="#9E1A8C"/>
<text x="1728.0" y="640.0" font-size="15.4" text-anchor="start">LD21_sp012519515</text>
<rect x="1958" y="626.90" width="18" height="17.77" fill="#3473D9"/>
<circle cx="1985.3" cy="635.63" r="8.4" fill="#E8161F"/>
<text x="1728.0" y="657.5" font-size="15.4" text-anchor="start">UBA5232_species</text>
<rect x="1958" y="644.37" width="18" height="17.77" fill="#BBA85A"/>
<text x="1728.0" y="674.9" font-size="15.4" text-anchor="start">Syner-03_sp002306075</text>
<rect x="1958" y="661.83" width="18" height="17.77" fill="#C633E8"/>
<text x="1728.0" y="692.4" font-size="15.4" text-anchor="start"><tspan font-style="italic">Anaerolinaceae</tspan>_species_3<tspan dx="-2.6">3</tspan></text>
<rect x="1958" y="679.30" width="18" height="17.77" fill="#55231A"/>
<text x="1728.0" y="709.9" font-size="15.4" text-anchor="start"><tspan font-style="italic">Bacteria</tspan>_species_4</text>
<rect x="1958" y="696.77" width="18" height="17.77" fill="#B8B3B3"/>
<text x="1728.0" y="727.3" font-size="15.4" text-anchor="start"><tspan font-style="italic">Methanoculleus</tspan>_species_2</text>
<rect x="1958" y="714.23" width="18" height="17.77" fill="#9E1A8C"/>
<text x="1728.0" y="747.1" font-size="15.4" text-anchor="start">DUPH01_sp012838435</text>
<rect x="1958" y="734.00" width="18" height="17.72" fill="#834D80"/>
<text x="1728.0" y="764.5" font-size="15.4" text-anchor="start">DUPQ01_sp012838235</text>
<rect x="1958" y="751.42" width="18" height="17.72" fill="#4DA58A"/>
<text x="1728.0" y="782.0" font-size="15.4" text-anchor="start">DUVQ01_sp012840965_1</text>
<rect x="1958" y="768.85" width="18" height="17.72" fill="#CACAFA"/>
<text x="1728.0" y="799.4" font-size="15.4" text-anchor="start">JAGVSV01_species</text>
<rect x="1958" y="786.27" width="18" height="17.72" fill="#4DA58A"/>
<text x="1728.0" y="816.8" font-size="15.4" text-anchor="start">W0P28-013_sp012837685</text>
<rect x="1958" y="803.70" width="18" height="17.72" fill="#3473D9"/>
<text x="1728.0" y="834.2" font-size="15.4" text-anchor="start">SR-FBR-E99_sp009881065</text>
<rect x="1958" y="821.12" width="18" height="17.72" fill="#3473D9"/>
<circle cx="1985.3" cy="829.84" r="8.4" fill="#E8161F"/>
<text x="1728.0" y="851.6" font-size="15.4" text-anchor="start"><tspan font-style="italic">Methanothrix</tspan>_sp016706325</text>
<rect x="1958" y="838.55" width="18" height="17.72" fill="#9E1A8C"/>
<text x="1728.0" y="869.1" font-size="15.4" text-anchor="start">UBA1398_sp002305165</text>
<rect x="1958" y="855.98" width="18" height="17.72" fill="#F0845A"/>
<text x="1728.0" y="889.6" font-size="15.4" text-anchor="start">DUVQ01_sp012840965_2</text>
<rect x="1958" y="876.50" width="18" height="17.60" fill="#CACAFA"/>
<text x="1728.0" y="906.9" font-size="15.4" text-anchor="start"><tspan font-style="italic">Anaerolinaceae</tspan>_species_5</text>
<rect x="1958" y="893.80" width="18" height="17.60" fill="#55231A"/>
<text x="1728.0" y="924.2" font-size="15.4" text-anchor="start">UBA5266_sp012519525</text>
<rect x="1958" y="911.10" width="18" height="17.60" fill="#3473D9"/>
<text x="1728.0" y="941.5" font-size="15.4" text-anchor="start">DUOL01_sp012838875</text>
<rect x="1958" y="928.40" width="18" height="17.60" fill="#3473D9"/>
<text x="1728.0" y="958.8" font-size="15.4" text-anchor="start">Bact-11_sp002376715</text>
<rect x="1958" y="945.70" width="18" height="17.60" fill="#3473D9"/>
<path d="M1266.70 65.36 H1259.60 V82.87 H1266.70" fill="none" stroke="#1a1a1a" stroke-width="1.3"/>
<path d="M1259.60 74.11 H1257.80 V100.38 H1266.70" fill="none" stroke="#1a1a1a" stroke-width="1.3"/>
<path d="M1266.70 117.89 H1261.40 V135.40 H1266.70" fill="none" stroke="#1a1a1a" stroke-width="1.3"/>
<path d="M1257.80 87.24 H1255.00 V126.64 H1261.40" fill="none" stroke="#1a1a1a" stroke-width="1.3"/>
<path d="M1266.70 152.91 H1256.20 V170.42 H1266.70" fill="none" stroke="#1a1a1a" stroke-width="1.3"/>
<path d="M1266.70 187.93 H1261.40 V205.44 H1266.70" fill="none" stroke="#1a1a1a" stroke-width="1.3"/>
<path d="M1256.20 161.67 H1254.70 V196.69 H1261.40" fill="none" stroke="#1a1a1a" stroke-width="1.3"/>
<path d="M1255.00 106.94 H1247.00 V179.18 H1254.70" fill="none" stroke="#1a1a1a" stroke-width="1.3"/>
<path d="M1266.70 225.59 H1259.80 V242.97 H1266.70" fill="none" stroke="#1a1a1a" stroke-width="1.3"/>
<path d="M1266.70 260.35 H1262.70 V277.73 H1266.70" fill="none" stroke="#1a1a1a" stroke-width="1.3"/>
<path d="M1259.80 234.28 H1257.80 V269.04 H1262.70" fill="none" stroke="#1a1a1a" stroke-width="1.3"/>
<path d="M1257.80 251.66 H1255.40 V295.11 H1266.70" fill="none" stroke="#1a1a1a" stroke-width="1.3"/>
<path d="M1247.00 143.06 H1242.70 V273.38 H1255.40" fill="none" stroke="#1a1a1a" stroke-width="1.3"/>
<path d="M1266.70 315.10 H1258.60 V332.50 H1266.70" fill="none" stroke="#1a1a1a" stroke-width="1.3"/>
<path d="M1258.60 323.80 H1254.50 V349.90 H1266.70" fill="none" stroke="#1a1a1a" stroke-width="1.3"/>
<path d="M1266.70 367.30 H1258.10 V384.70 H1266.70" fill="none" stroke="#1a1a1a" stroke-width="1.3"/>
<path d="M1258.10 376.00 H1254.50 V402.10 H1266.70" fill="none" stroke="#1a1a1a" stroke-width="1.3"/>
<path d="M1254.50 336.85 H1245.60 V389.05 H1254.50" fill="none" stroke="#1a1a1a" stroke-width="1.3"/>
<path d="M1242.70 208.22 H1232.10 V362.95 H1245.60" fill="none" stroke="#1a1a1a" stroke-width="1.3"/>
<path d="M1266.70 421.50 H1256.80 V438.90 H1266.70" fill="none" stroke="#1a1a1a" stroke-width="1.3"/>
<path d="M1232.10 285.59 H1220.50 V430.20 H1256.80" fill="none" stroke="#1a1a1a" stroke-width="1.3"/>
<path d="M1266.70 458.27 H1263.80 V475.61 H1266.70" fill="none" stroke="#1a1a1a" stroke-width="1.3"/>
<path d="M1263.80 466.94 H1260.70 V492.96 H1266.70" fill="none" stroke="#1a1a1a" stroke-width="1.3"/>
<path d="M1260.70 479.95 H1259.70 V510.30 H1266.70" fill="none" stroke="#1a1a1a" stroke-width="1.3"/>
<path d="M1259.70 495.12 H1253.70 V527.64 H1266.70" fill="none" stroke="#1a1a1a" stroke-width="1.3"/>
<path d="M1266.70 544.99 H1258.60 V562.33 H1266.70" fill="none" stroke="#1a1a1a" stroke-width="1.3"/>
<path d="M1253.70 511.38 H1239.20 V553.66 H1258.60" fill="none" stroke="#1a1a1a" stroke-width="1.3"/>
<path d="M1220.50 357.89 H1217.90 V532.52 H1239.20" fill="none" stroke="#1a1a1a" stroke-width="1.3"/>
<path d="M1266.70 583.23 H1263.90 V600.70 H1266.70" fill="none" stroke="#1a1a1a" stroke-width="1.3"/>
<path d="M1263.90 591.97 H1260.90 V618.17 H1266.70" fill="none" stroke="#1a1a1a" stroke-width="1.3"/>
<path d="M1260.90 605.07 H1258.30 V635.63 H1266.70" fill="none" stroke="#1a1a1a" stroke-width="1.3"/>
<path d="M1258.30 620.35 H1253.50 V653.10 H1266.70" fill="none" stroke="#1a1a1a" stroke-width="1.3"/>
<path d="M1266.70 670.57 H1263.90 V688.03 H1266.70" fill="none" stroke="#1a1a1a" stroke-width="1.3"/>
<path d="M1263.90 679.30 H1260.90 V705.50 H1266.70" fill="none" stroke="#1a1a1a" stroke-width="1.3"/>
<path d="M1260.90 692.40 H1257.20 V722.97 H1266.70" fill="none" stroke="#1a1a1a" stroke-width="1.3"/>
<path d="M1253.50 636.73 H1250.20 V707.68 H1257.20" fill="none" stroke="#1a1a1a" stroke-width="1.3"/>
<path d="M1266.70 742.71 H1263.50 V760.14 H1266.70" fill="none" stroke="#1a1a1a" stroke-width="1.3"/>
<path d="M1266.70 777.56 H1264.60 V794.99 H1266.70" fill="none" stroke="#1a1a1a" stroke-width="1.3"/>
<path d="M1263.50 751.42 H1260.70 V786.27 H1264.60" fill="none" stroke="#1a1a1a" stroke-width="1.3"/>
<path d="M1266.70 812.41 H1261.30 V829.84 H1266.70" fill="none" stroke="#1a1a1a" stroke-width="1.3"/>
<path d="M1260.70 768.85 H1257.80 V821.12 H1261.30" fill="none" stroke="#1a1a1a" stroke-width="1.3"/>
<path d="M1257.80 794.99 H1253.70 V847.26 H1266.70" fill="none" stroke="#1a1a1a" stroke-width="1.3"/>
<path d="M1253.70 821.12 H1247.80 V864.69 H1266.70" fill="none" stroke="#1a1a1a" stroke-width="1.3"/>
<path d="M1250.20 672.20 H1238.50 V842.91 H1247.80" fill="none" stroke="#1a1a1a" stroke-width="1.3"/>
<path d="M1266.70 885.15 H1260.50 V902.45 H1266.70" fill="none" stroke="#1a1a1a" stroke-width="1.3"/>
<path d="M1260.50 893.80 H1259.50 V919.75 H1266.70" fill="none" stroke="#1a1a1a" stroke-width="1.3"/>
<path d="M1266.70 937.05 H1258.70 V954.35 H1266.70" fill="none" stroke="#1a1a1a" stroke-width="1.3"/>
<path d="M1259.50 906.77 H1247.00 V945.70 H1258.70" fill="none" stroke="#1a1a1a" stroke-width="1.3"/>
<path d="M1238.50 757.56 H1234.80 V926.24 H1247.00" fill="none" stroke="#1a1a1a" stroke-width="1.3"/>
<path d="M1217.90 445.21 H1182.80 V841.90 H1234.80" fill="none" stroke="#1a1a1a" stroke-width="1.3"/>
<path d="M1368.3 968.8 V990.6 H1464.8 V986.6" fill="none" stroke="#333" stroke-width="1.3"/>
<path d="M1432.7 968.8 V986.6 H1497.6 V968.8" fill="none" stroke="#333" stroke-width="1.3"/>
<path d="M1626.2 968.8 V986.6 H1690.9 V968.8" fill="none" stroke="#333" stroke-width="1.3"/>
<path d="M1561.8 968.8 V1015.7 H1659.3 V986.6" fill="none" stroke="#333" stroke-width="1.3"/>
<path d="M1416.4 990.6 V1030.2 H1610.2 V1015.7" fill="none" stroke="#333" stroke-width="1.3"/>
<path d="M1303.6 968.8 V1055.3 H1513.7 V1030.2" fill="none" stroke="#333" stroke-width="1.3"/>
<text x="1055.2" y="922.9" font-size="15">Pearson</text>
<text x="1055.2" y="939.6" font-size="15">correlation</text>
<defs><linearGradient id="pg" x1="0" y1="0" x2="0" y2="1"><stop offset="0.000" stop-color="#A81A29"/><stop offset="0.042" stop-color="#B23538"/><stop offset="0.083" stop-color="#BC4A48"/><stop offset="0.125" stop-color="#C65D59"/><stop offset="0.167" stop-color="#CF706A"/><stop offset="0.208" stop-color="#D7827C"/><stop offset="0.250" stop-color="#DF948E"/><stop offset="0.292" stop-color="#E6A7A1"/><stop offset="0.333" stop-color="#ECB9B4"/><stop offset="0.375" stop-color="#F2CBC7"/><stop offset="0.417" stop-color="#F7DDDB"/><stop offset="0.458" stop-color="#FCF0EF"/><stop offset="0.500" stop-color="#FBFBFC"/><stop offset="0.542" stop-color="#E7E8EE"/><stop offset="0.583" stop-color="#D3D5E1"/><stop offset="0.625" stop-color="#BFC2D3"/><stop offset="0.667" stop-color="#ABAFC5"/><stop offset="0.708" stop-color="#979DB8"/><stop offset="0.750" stop-color="#848BAB"/><stop offset="0.792" stop-color="#717A9E"/><stop offset="0.833" stop-color="#5E6991"/><stop offset="0.875" stop-color="#4B5984"/><stop offset="0.917" stop-color="#364977"/><stop offset="0.958" stop-color="#203A6B"/><stop offset="1.000" stop-color="#022D60"/></linearGradient></defs>
<rect x="1055.8" y="947.6" width="22.3" height="110.9" fill="url(#pg)"/>
<line x1="1055.8" y1="972.4" x2="1059.5" y2="972.4" stroke="#fff" stroke-width="1"/>
<line x1="1074.4" y1="972.4" x2="1078.1" y2="972.4" stroke="#fff" stroke-width="1"/>
<line x1="1055.8" y1="1031.8" x2="1059.5" y2="1031.8" stroke="#fff" stroke-width="1"/>
<line x1="1074.4" y1="1031.8" x2="1078.1" y2="1031.8" stroke="#fff" stroke-width="1"/>
<text x="1084.8" y="977.4" font-size="15">0.5</text>
<text x="1084.8" y="1007.2" font-size="15">0.0</text>
<text x="1084.8" y="1037.2" font-size="15">-0.5</text>
</svg>
</body></html>
